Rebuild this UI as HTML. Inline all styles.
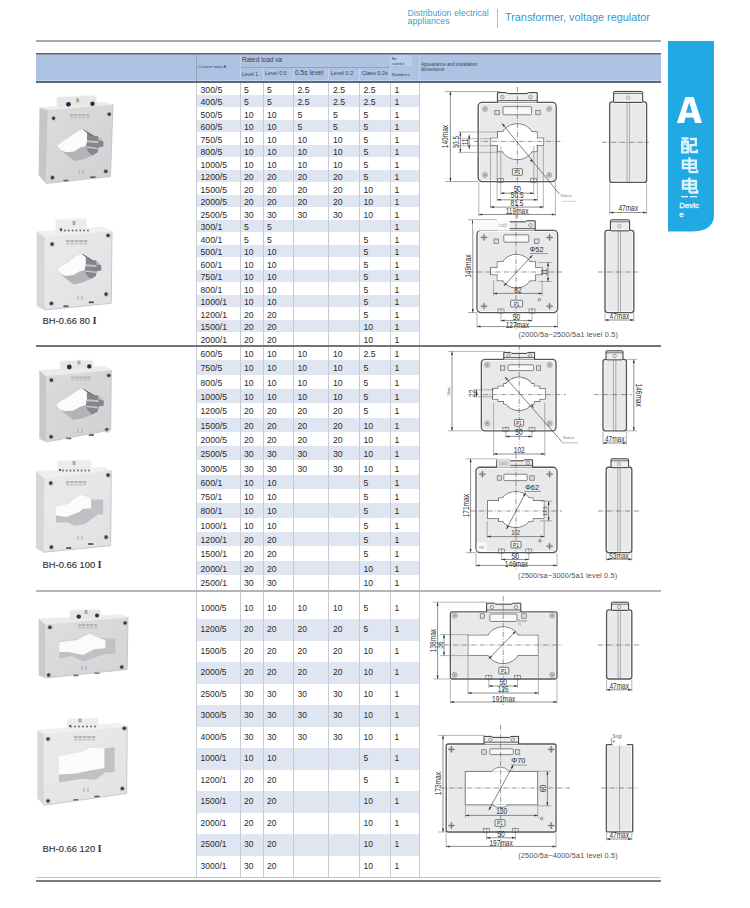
<!DOCTYPE html>
<html><head><meta charset="utf-8">
<style>
html,body{margin:0;padding:0;background:#fff;}
body{width:750px;height:908px;position:relative;overflow:hidden;font-family:"Liberation Sans",sans-serif;color:#222;}
.a{position:absolute;}
.band{position:absolute;left:196px;width:223px;background:#dfe6f2;}
.t{position:absolute;white-space:nowrap;color:#2a2a2a;}
.vl{position:absolute;width:1px;background:#c6cbd5;}
.hd{position:absolute;white-space:nowrap;color:#3a4454;}
.lab{position:absolute;white-space:nowrap;font-size:9.4px;line-height:11px;color:#303030;-webkit-text-stroke:0.12px #303030;}
.rn{font-family:"Liberation Serif",serif;font-weight:bold;}
</style></head><body>

<div class="a" style="left:407.5px;top:8.5px;font-size:8.8px;line-height:8.6px;color:#3aa3d3;">Distribution electrical<br>appliances</div>
<div class="a" style="left:497px;top:9px;width:1px;height:19px;background:#b8b8b8;"></div>
<div class="a" style="left:505px;top:11.3px;font-size:10.85px;line-height:12px;color:#2f9bcf;">Transformer, voltage regulator</div>
<div class="a" style="left:36px;top:40px;width:625px;height:2px;background:#a9a9a9;"></div>

<div class="a" style="left:36px;top:53px;width:625px;height:30px;background:#aec3e3;"></div>
<div class="a" style="left:36px;top:53px;width:625px;height:1px;background:#5a6676;"></div>
<div class="a" style="left:36px;top:54px;width:625px;height:1px;background:#8796ab;"></div>
<div class="a" style="left:36px;top:80px;width:625px;height:1px;background:#c0d4f0;"></div>
<div class="a" style="left:36px;top:81px;width:625px;height:2px;background:#5c6878;"></div>
<div class="a" style="left:196px;top:55px;width:1px;height:26px;background:#8ea3c3;"></div>
<div class="a" style="left:391px;top:55px;width:21px;height:11px;background:#bccdea;"></div>
<div class="a" style="left:240px;top:67px;width:150px;height:1px;background:#8ea3c3;"></div>

<div class="a" style="left:240px;top:55px;width:1px;height:26px;background:#c0d0ea;"></div>
<div class="a" style="left:263px;top:68px;width:1px;height:13px;background:#c0d0ea;"></div>
<div class="a" style="left:293px;top:68px;width:1px;height:13px;background:#c0d0ea;"></div>
<div class="a" style="left:328px;top:68px;width:1px;height:13px;background:#c0d0ea;"></div>
<div class="a" style="left:359px;top:68px;width:1px;height:13px;background:#c0d0ea;"></div>
<div class="a" style="left:390px;top:55px;width:1px;height:26px;background:#c0d0ea;"></div>
<div class="a" style="left:419px;top:55px;width:1px;height:26px;background:#c0d0ea;"></div>
<div class="hd" style="left:197.8px;top:64.3px;font-size:4.4px;">Current ratio A</div>
<div class="hd" style="left:242px;top:56.2px;font-size:6.5px;">Rated load va</div>
<div class="hd" style="left:242px;top:71.2px;font-size:5px;">Level 1</div>
<div class="hd" style="left:265px;top:70.3px;font-size:5.3px;">Level 0.5</div>
<div class="hd" style="left:295px;top:69.3px;font-size:6.7px;">0.5s level</div>
<div class="hd" style="left:330.7px;top:70.3px;font-size:5.6px;">Level 0.2</div>
<div class="hd" style="left:361.7px;top:70.3px;font-size:5.6px;">Class 0.2s</div>
<div class="hd" style="left:391.8px;top:55.5px;font-size:4.2px;line-height:5px;">Be<br>careful</div>
<div class="hd" style="left:391.8px;top:72.2px;font-size:4.4px;">Numbers</div>
<div class="hd" style="left:421px;top:62.6px;font-size:4.6px;line-height:4.9px;">Appearance and installation<br>dimensions</div>

<div class="t" style="left:200.5px;top:83.50px;height:12.50px;line-height:12.50px;font-size:8.7px">300/5</div>
<div class="t" style="left:244px;top:83.50px;height:12.50px;line-height:12.50px;font-size:8.7px">5</div>
<div class="t" style="left:267px;top:83.50px;height:12.50px;line-height:12.50px;font-size:8.7px">5</div>
<div class="t" style="left:297.5px;top:83.50px;height:12.50px;line-height:12.50px;font-size:8.7px">2.5</div>
<div class="t" style="left:333px;top:83.50px;height:12.50px;line-height:12.50px;font-size:8.7px">2.5</div>
<div class="t" style="left:363.5px;top:83.50px;height:12.50px;line-height:12.50px;font-size:8.7px">2.5</div>
<div class="t" style="left:394.5px;top:83.50px;height:12.50px;line-height:12.50px;font-size:8.7px">1</div>
<div class="band" style="top:94.70px;height:12.50px"></div>
<div class="t" style="left:200.5px;top:96.00px;height:12.50px;line-height:12.50px;font-size:8.7px">400/5</div>
<div class="t" style="left:244px;top:96.00px;height:12.50px;line-height:12.50px;font-size:8.7px">5</div>
<div class="t" style="left:267px;top:96.00px;height:12.50px;line-height:12.50px;font-size:8.7px">5</div>
<div class="t" style="left:297.5px;top:96.00px;height:12.50px;line-height:12.50px;font-size:8.7px">2.5</div>
<div class="t" style="left:333px;top:96.00px;height:12.50px;line-height:12.50px;font-size:8.7px">2.5</div>
<div class="t" style="left:363.5px;top:96.00px;height:12.50px;line-height:12.50px;font-size:8.7px">2.5</div>
<div class="t" style="left:394.5px;top:96.00px;height:12.50px;line-height:12.50px;font-size:8.7px">1</div>
<div class="t" style="left:200.5px;top:108.50px;height:12.50px;line-height:12.50px;font-size:8.7px">500/5</div>
<div class="t" style="left:244px;top:108.50px;height:12.50px;line-height:12.50px;font-size:8.7px">10</div>
<div class="t" style="left:267px;top:108.50px;height:12.50px;line-height:12.50px;font-size:8.7px">10</div>
<div class="t" style="left:297.5px;top:108.50px;height:12.50px;line-height:12.50px;font-size:8.7px">5</div>
<div class="t" style="left:333px;top:108.50px;height:12.50px;line-height:12.50px;font-size:8.7px">5</div>
<div class="t" style="left:363.5px;top:108.50px;height:12.50px;line-height:12.50px;font-size:8.7px">5</div>
<div class="t" style="left:394.5px;top:108.50px;height:12.50px;line-height:12.50px;font-size:8.7px">1</div>
<div class="band" style="top:119.70px;height:12.50px"></div>
<div class="t" style="left:200.5px;top:121.00px;height:12.50px;line-height:12.50px;font-size:8.7px">600/5</div>
<div class="t" style="left:244px;top:121.00px;height:12.50px;line-height:12.50px;font-size:8.7px">10</div>
<div class="t" style="left:267px;top:121.00px;height:12.50px;line-height:12.50px;font-size:8.7px">10</div>
<div class="t" style="left:297.5px;top:121.00px;height:12.50px;line-height:12.50px;font-size:8.7px">5</div>
<div class="t" style="left:333px;top:121.00px;height:12.50px;line-height:12.50px;font-size:8.7px">5</div>
<div class="t" style="left:363.5px;top:121.00px;height:12.50px;line-height:12.50px;font-size:8.7px">5</div>
<div class="t" style="left:394.5px;top:121.00px;height:12.50px;line-height:12.50px;font-size:8.7px">1</div>
<div class="t" style="left:200.5px;top:133.50px;height:12.50px;line-height:12.50px;font-size:8.7px">750/5</div>
<div class="t" style="left:244px;top:133.50px;height:12.50px;line-height:12.50px;font-size:8.7px">10</div>
<div class="t" style="left:267px;top:133.50px;height:12.50px;line-height:12.50px;font-size:8.7px">10</div>
<div class="t" style="left:297.5px;top:133.50px;height:12.50px;line-height:12.50px;font-size:8.7px">10</div>
<div class="t" style="left:333px;top:133.50px;height:12.50px;line-height:12.50px;font-size:8.7px">10</div>
<div class="t" style="left:363.5px;top:133.50px;height:12.50px;line-height:12.50px;font-size:8.7px">5</div>
<div class="t" style="left:394.5px;top:133.50px;height:12.50px;line-height:12.50px;font-size:8.7px">1</div>
<div class="band" style="top:144.70px;height:12.50px"></div>
<div class="t" style="left:200.5px;top:146.00px;height:12.50px;line-height:12.50px;font-size:8.7px">800/5</div>
<div class="t" style="left:244px;top:146.00px;height:12.50px;line-height:12.50px;font-size:8.7px">10</div>
<div class="t" style="left:267px;top:146.00px;height:12.50px;line-height:12.50px;font-size:8.7px">10</div>
<div class="t" style="left:297.5px;top:146.00px;height:12.50px;line-height:12.50px;font-size:8.7px">10</div>
<div class="t" style="left:333px;top:146.00px;height:12.50px;line-height:12.50px;font-size:8.7px">10</div>
<div class="t" style="left:363.5px;top:146.00px;height:12.50px;line-height:12.50px;font-size:8.7px">5</div>
<div class="t" style="left:394.5px;top:146.00px;height:12.50px;line-height:12.50px;font-size:8.7px">1</div>
<div class="t" style="left:200.5px;top:158.50px;height:12.50px;line-height:12.50px;font-size:8.7px">1000/5</div>
<div class="t" style="left:244px;top:158.50px;height:12.50px;line-height:12.50px;font-size:8.7px">10</div>
<div class="t" style="left:267px;top:158.50px;height:12.50px;line-height:12.50px;font-size:8.7px">10</div>
<div class="t" style="left:297.5px;top:158.50px;height:12.50px;line-height:12.50px;font-size:8.7px">10</div>
<div class="t" style="left:333px;top:158.50px;height:12.50px;line-height:12.50px;font-size:8.7px">10</div>
<div class="t" style="left:363.5px;top:158.50px;height:12.50px;line-height:12.50px;font-size:8.7px">5</div>
<div class="t" style="left:394.5px;top:158.50px;height:12.50px;line-height:12.50px;font-size:8.7px">1</div>
<div class="band" style="top:169.70px;height:12.50px"></div>
<div class="t" style="left:200.5px;top:171.00px;height:12.50px;line-height:12.50px;font-size:8.7px">1200/5</div>
<div class="t" style="left:244px;top:171.00px;height:12.50px;line-height:12.50px;font-size:8.7px">20</div>
<div class="t" style="left:267px;top:171.00px;height:12.50px;line-height:12.50px;font-size:8.7px">20</div>
<div class="t" style="left:297.5px;top:171.00px;height:12.50px;line-height:12.50px;font-size:8.7px">20</div>
<div class="t" style="left:333px;top:171.00px;height:12.50px;line-height:12.50px;font-size:8.7px">20</div>
<div class="t" style="left:363.5px;top:171.00px;height:12.50px;line-height:12.50px;font-size:8.7px">5</div>
<div class="t" style="left:394.5px;top:171.00px;height:12.50px;line-height:12.50px;font-size:8.7px">1</div>
<div class="t" style="left:200.5px;top:183.50px;height:12.50px;line-height:12.50px;font-size:8.7px">1500/5</div>
<div class="t" style="left:244px;top:183.50px;height:12.50px;line-height:12.50px;font-size:8.7px">20</div>
<div class="t" style="left:267px;top:183.50px;height:12.50px;line-height:12.50px;font-size:8.7px">20</div>
<div class="t" style="left:297.5px;top:183.50px;height:12.50px;line-height:12.50px;font-size:8.7px">20</div>
<div class="t" style="left:333px;top:183.50px;height:12.50px;line-height:12.50px;font-size:8.7px">20</div>
<div class="t" style="left:363.5px;top:183.50px;height:12.50px;line-height:12.50px;font-size:8.7px">10</div>
<div class="t" style="left:394.5px;top:183.50px;height:12.50px;line-height:12.50px;font-size:8.7px">1</div>
<div class="band" style="top:194.70px;height:12.50px"></div>
<div class="t" style="left:200.5px;top:196.00px;height:12.50px;line-height:12.50px;font-size:8.7px">2000/5</div>
<div class="t" style="left:244px;top:196.00px;height:12.50px;line-height:12.50px;font-size:8.7px">20</div>
<div class="t" style="left:267px;top:196.00px;height:12.50px;line-height:12.50px;font-size:8.7px">20</div>
<div class="t" style="left:297.5px;top:196.00px;height:12.50px;line-height:12.50px;font-size:8.7px">20</div>
<div class="t" style="left:333px;top:196.00px;height:12.50px;line-height:12.50px;font-size:8.7px">20</div>
<div class="t" style="left:363.5px;top:196.00px;height:12.50px;line-height:12.50px;font-size:8.7px">10</div>
<div class="t" style="left:394.5px;top:196.00px;height:12.50px;line-height:12.50px;font-size:8.7px">1</div>
<div class="t" style="left:200.5px;top:208.50px;height:12.50px;line-height:12.50px;font-size:8.7px">2500/5</div>
<div class="t" style="left:244px;top:208.50px;height:12.50px;line-height:12.50px;font-size:8.7px">30</div>
<div class="t" style="left:267px;top:208.50px;height:12.50px;line-height:12.50px;font-size:8.7px">30</div>
<div class="t" style="left:297.5px;top:208.50px;height:12.50px;line-height:12.50px;font-size:8.7px">30</div>
<div class="t" style="left:333px;top:208.50px;height:12.50px;line-height:12.50px;font-size:8.7px">30</div>
<div class="t" style="left:363.5px;top:208.50px;height:12.50px;line-height:12.50px;font-size:8.7px">10</div>
<div class="t" style="left:394.5px;top:208.50px;height:12.50px;line-height:12.50px;font-size:8.7px">1</div>
<div class="band" style="top:219.70px;height:12.50px"></div>
<div class="t" style="left:200.5px;top:221.00px;height:12.50px;line-height:12.50px;font-size:8.7px">300/1</div>
<div class="t" style="left:244px;top:221.00px;height:12.50px;line-height:12.50px;font-size:8.7px">5</div>
<div class="t" style="left:267px;top:221.00px;height:12.50px;line-height:12.50px;font-size:8.7px">5</div>
<div class="t" style="left:394.5px;top:221.00px;height:12.50px;line-height:12.50px;font-size:8.7px">1</div>
<div class="t" style="left:200.5px;top:233.50px;height:12.50px;line-height:12.50px;font-size:8.7px">400/1</div>
<div class="t" style="left:244px;top:233.50px;height:12.50px;line-height:12.50px;font-size:8.7px">5</div>
<div class="t" style="left:267px;top:233.50px;height:12.50px;line-height:12.50px;font-size:8.7px">5</div>
<div class="t" style="left:363.5px;top:233.50px;height:12.50px;line-height:12.50px;font-size:8.7px">5</div>
<div class="t" style="left:394.5px;top:233.50px;height:12.50px;line-height:12.50px;font-size:8.7px">1</div>
<div class="band" style="top:244.70px;height:12.50px"></div>
<div class="t" style="left:200.5px;top:246.00px;height:12.50px;line-height:12.50px;font-size:8.7px">500/1</div>
<div class="t" style="left:244px;top:246.00px;height:12.50px;line-height:12.50px;font-size:8.7px">10</div>
<div class="t" style="left:267px;top:246.00px;height:12.50px;line-height:12.50px;font-size:8.7px">10</div>
<div class="t" style="left:363.5px;top:246.00px;height:12.50px;line-height:12.50px;font-size:8.7px">5</div>
<div class="t" style="left:394.5px;top:246.00px;height:12.50px;line-height:12.50px;font-size:8.7px">1</div>
<div class="t" style="left:200.5px;top:258.50px;height:12.50px;line-height:12.50px;font-size:8.7px">600/1</div>
<div class="t" style="left:244px;top:258.50px;height:12.50px;line-height:12.50px;font-size:8.7px">10</div>
<div class="t" style="left:267px;top:258.50px;height:12.50px;line-height:12.50px;font-size:8.7px">10</div>
<div class="t" style="left:363.5px;top:258.50px;height:12.50px;line-height:12.50px;font-size:8.7px">5</div>
<div class="t" style="left:394.5px;top:258.50px;height:12.50px;line-height:12.50px;font-size:8.7px">1</div>
<div class="band" style="top:269.70px;height:12.50px"></div>
<div class="t" style="left:200.5px;top:271.00px;height:12.50px;line-height:12.50px;font-size:8.7px">750/1</div>
<div class="t" style="left:244px;top:271.00px;height:12.50px;line-height:12.50px;font-size:8.7px">10</div>
<div class="t" style="left:267px;top:271.00px;height:12.50px;line-height:12.50px;font-size:8.7px">10</div>
<div class="t" style="left:363.5px;top:271.00px;height:12.50px;line-height:12.50px;font-size:8.7px">5</div>
<div class="t" style="left:394.5px;top:271.00px;height:12.50px;line-height:12.50px;font-size:8.7px">1</div>
<div class="t" style="left:200.5px;top:283.50px;height:12.50px;line-height:12.50px;font-size:8.7px">800/1</div>
<div class="t" style="left:244px;top:283.50px;height:12.50px;line-height:12.50px;font-size:8.7px">10</div>
<div class="t" style="left:267px;top:283.50px;height:12.50px;line-height:12.50px;font-size:8.7px">10</div>
<div class="t" style="left:363.5px;top:283.50px;height:12.50px;line-height:12.50px;font-size:8.7px">5</div>
<div class="t" style="left:394.5px;top:283.50px;height:12.50px;line-height:12.50px;font-size:8.7px">1</div>
<div class="band" style="top:294.70px;height:12.50px"></div>
<div class="t" style="left:200.5px;top:296.00px;height:12.50px;line-height:12.50px;font-size:8.7px">1000/1</div>
<div class="t" style="left:244px;top:296.00px;height:12.50px;line-height:12.50px;font-size:8.7px">10</div>
<div class="t" style="left:267px;top:296.00px;height:12.50px;line-height:12.50px;font-size:8.7px">10</div>
<div class="t" style="left:363.5px;top:296.00px;height:12.50px;line-height:12.50px;font-size:8.7px">5</div>
<div class="t" style="left:394.5px;top:296.00px;height:12.50px;line-height:12.50px;font-size:8.7px">1</div>
<div class="t" style="left:200.5px;top:308.50px;height:12.50px;line-height:12.50px;font-size:8.7px">1200/1</div>
<div class="t" style="left:244px;top:308.50px;height:12.50px;line-height:12.50px;font-size:8.7px">20</div>
<div class="t" style="left:267px;top:308.50px;height:12.50px;line-height:12.50px;font-size:8.7px">20</div>
<div class="t" style="left:363.5px;top:308.50px;height:12.50px;line-height:12.50px;font-size:8.7px">5</div>
<div class="t" style="left:394.5px;top:308.50px;height:12.50px;line-height:12.50px;font-size:8.7px">1</div>
<div class="band" style="top:319.70px;height:12.50px"></div>
<div class="t" style="left:200.5px;top:321.00px;height:12.50px;line-height:12.50px;font-size:8.7px">1500/1</div>
<div class="t" style="left:244px;top:321.00px;height:12.50px;line-height:12.50px;font-size:8.7px">20</div>
<div class="t" style="left:267px;top:321.00px;height:12.50px;line-height:12.50px;font-size:8.7px">20</div>
<div class="t" style="left:363.5px;top:321.00px;height:12.50px;line-height:12.50px;font-size:8.7px">10</div>
<div class="t" style="left:394.5px;top:321.00px;height:12.50px;line-height:12.50px;font-size:8.7px">1</div>
<div class="t" style="left:200.5px;top:333.50px;height:12.50px;line-height:12.50px;font-size:8.7px">2000/1</div>
<div class="t" style="left:244px;top:333.50px;height:12.50px;line-height:12.50px;font-size:8.7px">20</div>
<div class="t" style="left:267px;top:333.50px;height:12.50px;line-height:12.50px;font-size:8.7px">20</div>
<div class="t" style="left:363.5px;top:333.50px;height:12.50px;line-height:12.50px;font-size:8.7px">10</div>
<div class="t" style="left:394.5px;top:333.50px;height:12.50px;line-height:12.50px;font-size:8.7px">1</div>
<div class="t" style="left:200.5px;top:347.10px;height:14.30px;line-height:14.30px;font-size:8.7px">600/5</div>
<div class="t" style="left:244px;top:347.10px;height:14.30px;line-height:14.30px;font-size:8.7px">10</div>
<div class="t" style="left:267px;top:347.10px;height:14.30px;line-height:14.30px;font-size:8.7px">10</div>
<div class="t" style="left:297.5px;top:347.10px;height:14.30px;line-height:14.30px;font-size:8.7px">10</div>
<div class="t" style="left:333px;top:347.10px;height:14.30px;line-height:14.30px;font-size:8.7px">10</div>
<div class="t" style="left:363.5px;top:347.10px;height:14.30px;line-height:14.30px;font-size:8.7px">2.5</div>
<div class="t" style="left:394.5px;top:347.10px;height:14.30px;line-height:14.30px;font-size:8.7px">1</div>
<div class="band" style="top:360.30px;height:14.30px"></div>
<div class="t" style="left:200.5px;top:361.40px;height:14.30px;line-height:14.30px;font-size:8.7px">750/5</div>
<div class="t" style="left:244px;top:361.40px;height:14.30px;line-height:14.30px;font-size:8.7px">10</div>
<div class="t" style="left:267px;top:361.40px;height:14.30px;line-height:14.30px;font-size:8.7px">10</div>
<div class="t" style="left:297.5px;top:361.40px;height:14.30px;line-height:14.30px;font-size:8.7px">10</div>
<div class="t" style="left:333px;top:361.40px;height:14.30px;line-height:14.30px;font-size:8.7px">10</div>
<div class="t" style="left:363.5px;top:361.40px;height:14.30px;line-height:14.30px;font-size:8.7px">5</div>
<div class="t" style="left:394.5px;top:361.40px;height:14.30px;line-height:14.30px;font-size:8.7px">1</div>
<div class="t" style="left:200.5px;top:375.70px;height:14.30px;line-height:14.30px;font-size:8.7px">800/5</div>
<div class="t" style="left:244px;top:375.70px;height:14.30px;line-height:14.30px;font-size:8.7px">10</div>
<div class="t" style="left:267px;top:375.70px;height:14.30px;line-height:14.30px;font-size:8.7px">10</div>
<div class="t" style="left:297.5px;top:375.70px;height:14.30px;line-height:14.30px;font-size:8.7px">10</div>
<div class="t" style="left:333px;top:375.70px;height:14.30px;line-height:14.30px;font-size:8.7px">10</div>
<div class="t" style="left:363.5px;top:375.70px;height:14.30px;line-height:14.30px;font-size:8.7px">5</div>
<div class="t" style="left:394.5px;top:375.70px;height:14.30px;line-height:14.30px;font-size:8.7px">1</div>
<div class="band" style="top:388.90px;height:14.30px"></div>
<div class="t" style="left:200.5px;top:390.00px;height:14.30px;line-height:14.30px;font-size:8.7px">1000/5</div>
<div class="t" style="left:244px;top:390.00px;height:14.30px;line-height:14.30px;font-size:8.7px">10</div>
<div class="t" style="left:267px;top:390.00px;height:14.30px;line-height:14.30px;font-size:8.7px">10</div>
<div class="t" style="left:297.5px;top:390.00px;height:14.30px;line-height:14.30px;font-size:8.7px">10</div>
<div class="t" style="left:333px;top:390.00px;height:14.30px;line-height:14.30px;font-size:8.7px">10</div>
<div class="t" style="left:363.5px;top:390.00px;height:14.30px;line-height:14.30px;font-size:8.7px">5</div>
<div class="t" style="left:394.5px;top:390.00px;height:14.30px;line-height:14.30px;font-size:8.7px">1</div>
<div class="t" style="left:200.5px;top:404.30px;height:14.30px;line-height:14.30px;font-size:8.7px">1200/5</div>
<div class="t" style="left:244px;top:404.30px;height:14.30px;line-height:14.30px;font-size:8.7px">20</div>
<div class="t" style="left:267px;top:404.30px;height:14.30px;line-height:14.30px;font-size:8.7px">20</div>
<div class="t" style="left:297.5px;top:404.30px;height:14.30px;line-height:14.30px;font-size:8.7px">20</div>
<div class="t" style="left:333px;top:404.30px;height:14.30px;line-height:14.30px;font-size:8.7px">20</div>
<div class="t" style="left:363.5px;top:404.30px;height:14.30px;line-height:14.30px;font-size:8.7px">5</div>
<div class="t" style="left:394.5px;top:404.30px;height:14.30px;line-height:14.30px;font-size:8.7px">1</div>
<div class="band" style="top:417.50px;height:14.30px"></div>
<div class="t" style="left:200.5px;top:418.60px;height:14.30px;line-height:14.30px;font-size:8.7px">1500/5</div>
<div class="t" style="left:244px;top:418.60px;height:14.30px;line-height:14.30px;font-size:8.7px">20</div>
<div class="t" style="left:267px;top:418.60px;height:14.30px;line-height:14.30px;font-size:8.7px">20</div>
<div class="t" style="left:297.5px;top:418.60px;height:14.30px;line-height:14.30px;font-size:8.7px">20</div>
<div class="t" style="left:333px;top:418.60px;height:14.30px;line-height:14.30px;font-size:8.7px">20</div>
<div class="t" style="left:363.5px;top:418.60px;height:14.30px;line-height:14.30px;font-size:8.7px">10</div>
<div class="t" style="left:394.5px;top:418.60px;height:14.30px;line-height:14.30px;font-size:8.7px">1</div>
<div class="t" style="left:200.5px;top:432.90px;height:14.30px;line-height:14.30px;font-size:8.7px">2000/5</div>
<div class="t" style="left:244px;top:432.90px;height:14.30px;line-height:14.30px;font-size:8.7px">20</div>
<div class="t" style="left:267px;top:432.90px;height:14.30px;line-height:14.30px;font-size:8.7px">20</div>
<div class="t" style="left:297.5px;top:432.90px;height:14.30px;line-height:14.30px;font-size:8.7px">20</div>
<div class="t" style="left:333px;top:432.90px;height:14.30px;line-height:14.30px;font-size:8.7px">20</div>
<div class="t" style="left:363.5px;top:432.90px;height:14.30px;line-height:14.30px;font-size:8.7px">10</div>
<div class="t" style="left:394.5px;top:432.90px;height:14.30px;line-height:14.30px;font-size:8.7px">1</div>
<div class="band" style="top:446.10px;height:14.30px"></div>
<div class="t" style="left:200.5px;top:447.20px;height:14.30px;line-height:14.30px;font-size:8.7px">2500/5</div>
<div class="t" style="left:244px;top:447.20px;height:14.30px;line-height:14.30px;font-size:8.7px">30</div>
<div class="t" style="left:267px;top:447.20px;height:14.30px;line-height:14.30px;font-size:8.7px">30</div>
<div class="t" style="left:297.5px;top:447.20px;height:14.30px;line-height:14.30px;font-size:8.7px">30</div>
<div class="t" style="left:333px;top:447.20px;height:14.30px;line-height:14.30px;font-size:8.7px">30</div>
<div class="t" style="left:363.5px;top:447.20px;height:14.30px;line-height:14.30px;font-size:8.7px">10</div>
<div class="t" style="left:394.5px;top:447.20px;height:14.30px;line-height:14.30px;font-size:8.7px">1</div>
<div class="t" style="left:200.5px;top:461.50px;height:14.30px;line-height:14.30px;font-size:8.7px">3000/5</div>
<div class="t" style="left:244px;top:461.50px;height:14.30px;line-height:14.30px;font-size:8.7px">30</div>
<div class="t" style="left:267px;top:461.50px;height:14.30px;line-height:14.30px;font-size:8.7px">30</div>
<div class="t" style="left:297.5px;top:461.50px;height:14.30px;line-height:14.30px;font-size:8.7px">30</div>
<div class="t" style="left:333px;top:461.50px;height:14.30px;line-height:14.30px;font-size:8.7px">30</div>
<div class="t" style="left:363.5px;top:461.50px;height:14.30px;line-height:14.30px;font-size:8.7px">10</div>
<div class="t" style="left:394.5px;top:461.50px;height:14.30px;line-height:14.30px;font-size:8.7px">1</div>
<div class="band" style="top:474.70px;height:14.30px"></div>
<div class="t" style="left:200.5px;top:475.80px;height:14.30px;line-height:14.30px;font-size:8.7px">600/1</div>
<div class="t" style="left:244px;top:475.80px;height:14.30px;line-height:14.30px;font-size:8.7px">10</div>
<div class="t" style="left:267px;top:475.80px;height:14.30px;line-height:14.30px;font-size:8.7px">10</div>
<div class="t" style="left:363.5px;top:475.80px;height:14.30px;line-height:14.30px;font-size:8.7px">5</div>
<div class="t" style="left:394.5px;top:475.80px;height:14.30px;line-height:14.30px;font-size:8.7px">1</div>
<div class="t" style="left:200.5px;top:490.10px;height:14.30px;line-height:14.30px;font-size:8.7px">750/1</div>
<div class="t" style="left:244px;top:490.10px;height:14.30px;line-height:14.30px;font-size:8.7px">10</div>
<div class="t" style="left:267px;top:490.10px;height:14.30px;line-height:14.30px;font-size:8.7px">10</div>
<div class="t" style="left:363.5px;top:490.10px;height:14.30px;line-height:14.30px;font-size:8.7px">5</div>
<div class="t" style="left:394.5px;top:490.10px;height:14.30px;line-height:14.30px;font-size:8.7px">1</div>
<div class="band" style="top:503.30px;height:14.30px"></div>
<div class="t" style="left:200.5px;top:504.40px;height:14.30px;line-height:14.30px;font-size:8.7px">800/1</div>
<div class="t" style="left:244px;top:504.40px;height:14.30px;line-height:14.30px;font-size:8.7px">10</div>
<div class="t" style="left:267px;top:504.40px;height:14.30px;line-height:14.30px;font-size:8.7px">10</div>
<div class="t" style="left:363.5px;top:504.40px;height:14.30px;line-height:14.30px;font-size:8.7px">5</div>
<div class="t" style="left:394.5px;top:504.40px;height:14.30px;line-height:14.30px;font-size:8.7px">1</div>
<div class="t" style="left:200.5px;top:518.70px;height:14.30px;line-height:14.30px;font-size:8.7px">1000/1</div>
<div class="t" style="left:244px;top:518.70px;height:14.30px;line-height:14.30px;font-size:8.7px">10</div>
<div class="t" style="left:267px;top:518.70px;height:14.30px;line-height:14.30px;font-size:8.7px">10</div>
<div class="t" style="left:363.5px;top:518.70px;height:14.30px;line-height:14.30px;font-size:8.7px">5</div>
<div class="t" style="left:394.5px;top:518.70px;height:14.30px;line-height:14.30px;font-size:8.7px">1</div>
<div class="band" style="top:531.90px;height:14.30px"></div>
<div class="t" style="left:200.5px;top:533.00px;height:14.30px;line-height:14.30px;font-size:8.7px">1200/1</div>
<div class="t" style="left:244px;top:533.00px;height:14.30px;line-height:14.30px;font-size:8.7px">20</div>
<div class="t" style="left:267px;top:533.00px;height:14.30px;line-height:14.30px;font-size:8.7px">20</div>
<div class="t" style="left:363.5px;top:533.00px;height:14.30px;line-height:14.30px;font-size:8.7px">5</div>
<div class="t" style="left:394.5px;top:533.00px;height:14.30px;line-height:14.30px;font-size:8.7px">1</div>
<div class="t" style="left:200.5px;top:547.30px;height:14.30px;line-height:14.30px;font-size:8.7px">1500/1</div>
<div class="t" style="left:244px;top:547.30px;height:14.30px;line-height:14.30px;font-size:8.7px">20</div>
<div class="t" style="left:267px;top:547.30px;height:14.30px;line-height:14.30px;font-size:8.7px">20</div>
<div class="t" style="left:363.5px;top:547.30px;height:14.30px;line-height:14.30px;font-size:8.7px">5</div>
<div class="t" style="left:394.5px;top:547.30px;height:14.30px;line-height:14.30px;font-size:8.7px">1</div>
<div class="band" style="top:560.50px;height:14.30px"></div>
<div class="t" style="left:200.5px;top:561.60px;height:14.30px;line-height:14.30px;font-size:8.7px">2000/1</div>
<div class="t" style="left:244px;top:561.60px;height:14.30px;line-height:14.30px;font-size:8.7px">20</div>
<div class="t" style="left:267px;top:561.60px;height:14.30px;line-height:14.30px;font-size:8.7px">20</div>
<div class="t" style="left:363.5px;top:561.60px;height:14.30px;line-height:14.30px;font-size:8.7px">10</div>
<div class="t" style="left:394.5px;top:561.60px;height:14.30px;line-height:14.30px;font-size:8.7px">1</div>
<div class="t" style="left:200.5px;top:575.90px;height:14.30px;line-height:14.30px;font-size:8.7px">2500/1</div>
<div class="t" style="left:244px;top:575.90px;height:14.30px;line-height:14.30px;font-size:8.7px">30</div>
<div class="t" style="left:267px;top:575.90px;height:14.30px;line-height:14.30px;font-size:8.7px">30</div>
<div class="t" style="left:363.5px;top:575.90px;height:14.30px;line-height:14.30px;font-size:8.7px">10</div>
<div class="t" style="left:394.5px;top:575.90px;height:14.30px;line-height:14.30px;font-size:8.7px">1</div>
<div class="t" style="left:200.5px;top:597.50px;height:21.50px;line-height:21.50px;font-size:8.5px">1000/5</div>
<div class="t" style="left:244px;top:597.50px;height:21.50px;line-height:21.50px;font-size:8.5px">10</div>
<div class="t" style="left:267px;top:597.50px;height:21.50px;line-height:21.50px;font-size:8.5px">10</div>
<div class="t" style="left:297.5px;top:597.50px;height:21.50px;line-height:21.50px;font-size:8.5px">10</div>
<div class="t" style="left:333px;top:597.50px;height:21.50px;line-height:21.50px;font-size:8.5px">10</div>
<div class="t" style="left:363.5px;top:597.50px;height:21.50px;line-height:21.50px;font-size:8.5px">5</div>
<div class="t" style="left:394.5px;top:597.50px;height:21.50px;line-height:21.50px;font-size:8.5px">1</div>
<div class="band" style="top:619.00px;height:21.50px"></div>
<div class="t" style="left:200.5px;top:619.00px;height:21.50px;line-height:21.50px;font-size:8.5px">1200/5</div>
<div class="t" style="left:244px;top:619.00px;height:21.50px;line-height:21.50px;font-size:8.5px">20</div>
<div class="t" style="left:267px;top:619.00px;height:21.50px;line-height:21.50px;font-size:8.5px">20</div>
<div class="t" style="left:297.5px;top:619.00px;height:21.50px;line-height:21.50px;font-size:8.5px">20</div>
<div class="t" style="left:333px;top:619.00px;height:21.50px;line-height:21.50px;font-size:8.5px">20</div>
<div class="t" style="left:363.5px;top:619.00px;height:21.50px;line-height:21.50px;font-size:8.5px">5</div>
<div class="t" style="left:394.5px;top:619.00px;height:21.50px;line-height:21.50px;font-size:8.5px">1</div>
<div class="t" style="left:200.5px;top:640.50px;height:21.50px;line-height:21.50px;font-size:8.5px">1500/5</div>
<div class="t" style="left:244px;top:640.50px;height:21.50px;line-height:21.50px;font-size:8.5px">20</div>
<div class="t" style="left:267px;top:640.50px;height:21.50px;line-height:21.50px;font-size:8.5px">20</div>
<div class="t" style="left:297.5px;top:640.50px;height:21.50px;line-height:21.50px;font-size:8.5px">20</div>
<div class="t" style="left:333px;top:640.50px;height:21.50px;line-height:21.50px;font-size:8.5px">20</div>
<div class="t" style="left:363.5px;top:640.50px;height:21.50px;line-height:21.50px;font-size:8.5px">10</div>
<div class="t" style="left:394.5px;top:640.50px;height:21.50px;line-height:21.50px;font-size:8.5px">1</div>
<div class="band" style="top:662.00px;height:21.50px"></div>
<div class="t" style="left:200.5px;top:662.00px;height:21.50px;line-height:21.50px;font-size:8.5px">2000/5</div>
<div class="t" style="left:244px;top:662.00px;height:21.50px;line-height:21.50px;font-size:8.5px">20</div>
<div class="t" style="left:267px;top:662.00px;height:21.50px;line-height:21.50px;font-size:8.5px">20</div>
<div class="t" style="left:297.5px;top:662.00px;height:21.50px;line-height:21.50px;font-size:8.5px">20</div>
<div class="t" style="left:333px;top:662.00px;height:21.50px;line-height:21.50px;font-size:8.5px">20</div>
<div class="t" style="left:363.5px;top:662.00px;height:21.50px;line-height:21.50px;font-size:8.5px">10</div>
<div class="t" style="left:394.5px;top:662.00px;height:21.50px;line-height:21.50px;font-size:8.5px">1</div>
<div class="t" style="left:200.5px;top:683.50px;height:21.50px;line-height:21.50px;font-size:8.5px">2500/5</div>
<div class="t" style="left:244px;top:683.50px;height:21.50px;line-height:21.50px;font-size:8.5px">30</div>
<div class="t" style="left:267px;top:683.50px;height:21.50px;line-height:21.50px;font-size:8.5px">30</div>
<div class="t" style="left:297.5px;top:683.50px;height:21.50px;line-height:21.50px;font-size:8.5px">30</div>
<div class="t" style="left:333px;top:683.50px;height:21.50px;line-height:21.50px;font-size:8.5px">30</div>
<div class="t" style="left:363.5px;top:683.50px;height:21.50px;line-height:21.50px;font-size:8.5px">10</div>
<div class="t" style="left:394.5px;top:683.50px;height:21.50px;line-height:21.50px;font-size:8.5px">1</div>
<div class="band" style="top:705.00px;height:21.50px"></div>
<div class="t" style="left:200.5px;top:705.00px;height:21.50px;line-height:21.50px;font-size:8.5px">3000/5</div>
<div class="t" style="left:244px;top:705.00px;height:21.50px;line-height:21.50px;font-size:8.5px">30</div>
<div class="t" style="left:267px;top:705.00px;height:21.50px;line-height:21.50px;font-size:8.5px">30</div>
<div class="t" style="left:297.5px;top:705.00px;height:21.50px;line-height:21.50px;font-size:8.5px">30</div>
<div class="t" style="left:333px;top:705.00px;height:21.50px;line-height:21.50px;font-size:8.5px">30</div>
<div class="t" style="left:363.5px;top:705.00px;height:21.50px;line-height:21.50px;font-size:8.5px">10</div>
<div class="t" style="left:394.5px;top:705.00px;height:21.50px;line-height:21.50px;font-size:8.5px">1</div>
<div class="t" style="left:200.5px;top:726.50px;height:21.50px;line-height:21.50px;font-size:8.5px">4000/5</div>
<div class="t" style="left:244px;top:726.50px;height:21.50px;line-height:21.50px;font-size:8.5px">30</div>
<div class="t" style="left:267px;top:726.50px;height:21.50px;line-height:21.50px;font-size:8.5px">30</div>
<div class="t" style="left:297.5px;top:726.50px;height:21.50px;line-height:21.50px;font-size:8.5px">30</div>
<div class="t" style="left:333px;top:726.50px;height:21.50px;line-height:21.50px;font-size:8.5px">30</div>
<div class="t" style="left:363.5px;top:726.50px;height:21.50px;line-height:21.50px;font-size:8.5px">10</div>
<div class="t" style="left:394.5px;top:726.50px;height:21.50px;line-height:21.50px;font-size:8.5px">1</div>
<div class="band" style="top:748.00px;height:21.50px"></div>
<div class="t" style="left:200.5px;top:748.00px;height:21.50px;line-height:21.50px;font-size:8.5px">1000/1</div>
<div class="t" style="left:244px;top:748.00px;height:21.50px;line-height:21.50px;font-size:8.5px">10</div>
<div class="t" style="left:267px;top:748.00px;height:21.50px;line-height:21.50px;font-size:8.5px">10</div>
<div class="t" style="left:363.5px;top:748.00px;height:21.50px;line-height:21.50px;font-size:8.5px">5</div>
<div class="t" style="left:394.5px;top:748.00px;height:21.50px;line-height:21.50px;font-size:8.5px">1</div>
<div class="t" style="left:200.5px;top:769.50px;height:21.50px;line-height:21.50px;font-size:8.5px">1200/1</div>
<div class="t" style="left:244px;top:769.50px;height:21.50px;line-height:21.50px;font-size:8.5px">20</div>
<div class="t" style="left:267px;top:769.50px;height:21.50px;line-height:21.50px;font-size:8.5px">20</div>
<div class="t" style="left:363.5px;top:769.50px;height:21.50px;line-height:21.50px;font-size:8.5px">5</div>
<div class="t" style="left:394.5px;top:769.50px;height:21.50px;line-height:21.50px;font-size:8.5px">1</div>
<div class="band" style="top:791.00px;height:21.50px"></div>
<div class="t" style="left:200.5px;top:791.00px;height:21.50px;line-height:21.50px;font-size:8.5px">1500/1</div>
<div class="t" style="left:244px;top:791.00px;height:21.50px;line-height:21.50px;font-size:8.5px">20</div>
<div class="t" style="left:267px;top:791.00px;height:21.50px;line-height:21.50px;font-size:8.5px">20</div>
<div class="t" style="left:363.5px;top:791.00px;height:21.50px;line-height:21.50px;font-size:8.5px">10</div>
<div class="t" style="left:394.5px;top:791.00px;height:21.50px;line-height:21.50px;font-size:8.5px">1</div>
<div class="t" style="left:200.5px;top:812.50px;height:21.50px;line-height:21.50px;font-size:8.5px">2000/1</div>
<div class="t" style="left:244px;top:812.50px;height:21.50px;line-height:21.50px;font-size:8.5px">20</div>
<div class="t" style="left:267px;top:812.50px;height:21.50px;line-height:21.50px;font-size:8.5px">20</div>
<div class="t" style="left:363.5px;top:812.50px;height:21.50px;line-height:21.50px;font-size:8.5px">10</div>
<div class="t" style="left:394.5px;top:812.50px;height:21.50px;line-height:21.50px;font-size:8.5px">1</div>
<div class="band" style="top:834.00px;height:21.50px"></div>
<div class="t" style="left:200.5px;top:834.00px;height:21.50px;line-height:21.50px;font-size:8.5px">2500/1</div>
<div class="t" style="left:244px;top:834.00px;height:21.50px;line-height:21.50px;font-size:8.5px">30</div>
<div class="t" style="left:267px;top:834.00px;height:21.50px;line-height:21.50px;font-size:8.5px">20</div>
<div class="t" style="left:363.5px;top:834.00px;height:21.50px;line-height:21.50px;font-size:8.5px">10</div>
<div class="t" style="left:394.5px;top:834.00px;height:21.50px;line-height:21.50px;font-size:8.5px">1</div>
<div class="t" style="left:200.5px;top:855.50px;height:21.50px;line-height:21.50px;font-size:8.5px">3000/1</div>
<div class="t" style="left:244px;top:855.50px;height:21.50px;line-height:21.50px;font-size:8.5px">30</div>
<div class="t" style="left:267px;top:855.50px;height:21.50px;line-height:21.50px;font-size:8.5px">20</div>
<div class="t" style="left:363.5px;top:855.50px;height:21.50px;line-height:21.50px;font-size:8.5px">10</div>
<div class="t" style="left:394.5px;top:855.50px;height:21.50px;line-height:21.50px;font-size:8.5px">1</div>
<div class="vl" style="left:196px;top:83px;height:794px"></div>
<div class="vl" style="left:240px;top:83px;height:794px"></div>
<div class="vl" style="left:263px;top:83px;height:794px"></div>
<div class="vl" style="left:293px;top:83px;height:794px"></div>
<div class="vl" style="left:328px;top:83px;height:794px"></div>
<div class="vl" style="left:359px;top:83px;height:794px"></div>
<div class="vl" style="left:390px;top:83px;height:794px"></div>
<div class="vl" style="left:419px;top:83px;height:794px"></div>
<div class="a" style="left:36px;top:345px;width:625px;height:2px;background:#737373;"></div>
<div class="a" style="left:36px;top:590px;width:625px;height:2px;background:#b4b4b4;"></div>
<div class="a" style="left:36px;top:877px;width:625px;height:1px;background:#c4c4c4;"></div>
<div class="a" style="left:36px;top:880px;width:625px;height:2px;background:#7a7a7a;"></div>

<div class="lab" style="left:42.6px;top:314.8px;">BH-0.66 80 <span class="rn">I</span></div>
<div class="lab" style="left:42.6px;top:558.6px;">BH-0.66 100 <span class="rn">I</span></div>
<div class="lab" style="left:42.6px;top:843.2px;">BH-0.66 120 <span class="rn">I</span></div>

<svg class="a" style="left:0;top:0" width="200" height="908" viewBox="0 0 200 908">
<defs><linearGradient id="g1" x1="0" y1="0" x2="1" y2="1"><stop offset="0" stop-color="#dcdcdf"/><stop offset="1" stop-color="#d1d1d4"/></linearGradient><linearGradient id="g2" x1="0" y1="0" x2="1" y2="1"><stop offset="0" stop-color="#eaeaec"/><stop offset="1" stop-color="#e1e1e3"/></linearGradient><linearGradient id="g3" x1="0" y1="0" x2="1" y2="1"><stop offset="0" stop-color="#dbdbde"/><stop offset="1" stop-color="#d1d1d4"/></linearGradient><linearGradient id="g4" x1="0" y1="0" x2="1" y2="1"><stop offset="0" stop-color="#ebebed"/><stop offset="1" stop-color="#e1e1e3"/></linearGradient><linearGradient id="g5" x1="0" y1="0" x2="1" y2="1"><stop offset="0" stop-color="#dedee1"/><stop offset="1" stop-color="#d4d4d7"/></linearGradient><linearGradient id="g6" x1="0" y1="0" x2="1" y2="1"><stop offset="0" stop-color="#ebebed"/><stop offset="1" stop-color="#e2e2e4"/></linearGradient></defs>
<polygon points="39.5,107.5 48.0,110.0 46.0,183.5 38.6,175.0" fill="#c5c6c9"/>
<polygon points="39.5,107.5 104.0,102.0 113.0,104.5 48.0,110.0" fill="#ececee"/>
<polygon points="48.0,110.0 113.0,104.5 110.5,176.5 46.0,183.5" fill="url(#g1)"/>
<polygon points="56.5,98.0 61.0,96.5 95.0,95.5 96.5,97.0 96.5,105.0 57.0,106.5" fill="#e6e6e8"/>
<polyline points="56.5,98.0 61.0,96.5 95.0,95.5" fill="none" stroke="#f6f6f7" stroke-width="1.2"/>
<circle cx="68.4" cy="104.3" r="2.4" fill="#2e2e30"/>
<circle cx="92.5" cy="103.8" r="2.2" fill="#2e2e30"/>
<circle cx="53.5" cy="118.1" r="1.9" fill="#3c3c3e"/>
<circle cx="53.9" cy="118.6" r="2.4" fill="none" stroke="#bdbdc0" stroke-width="0.6"/>
<circle cx="109.1" cy="114.1" r="1.9" fill="#3c3c3e"/>
<circle cx="109.5" cy="114.6" r="2.4" fill="none" stroke="#bdbdc0" stroke-width="0.6"/>
<circle cx="52.3" cy="177.5" r="1.9" fill="#3c3c3e"/>
<circle cx="52.699999999999996" cy="178.0" r="2.4" fill="none" stroke="#bdbdc0" stroke-width="0.6"/>
<circle cx="105.7" cy="171.2" r="1.9" fill="#3c3c3e"/>
<circle cx="106.10000000000001" cy="171.7" r="2.4" fill="none" stroke="#bdbdc0" stroke-width="0.6"/>
<rect x="63.5" y="179.79999999999998" width="5" height="1.8" fill="#555"/>
<rect x="90.5" y="176.39999999999998" width="5" height="1.8" fill="#555"/>
<polyline points="113.0,104.5 110.5,176.5 46.0,183.5" fill="none" stroke="#bdbec1" stroke-width="0.8"/>
<line x1="48" y1="110" x2="46" y2="183.5" stroke="#d2d3d6" stroke-width="0.6"/>
<rect x="70.0" y="114.0" width="3.2" height="2.2" fill="#b4b5b8"/>
<rect x="70.0" y="117.0" width="3.2" height="1.4" fill="#c2c3c6"/>
<rect x="74.0" y="114.0" width="3.2" height="2.2" fill="#b4b5b8"/>
<rect x="74.0" y="117.0" width="3.2" height="1.4" fill="#c2c3c6"/>
<rect x="78.0" y="114.0" width="3.2" height="2.2" fill="#b4b5b8"/>
<rect x="78.0" y="117.0" width="3.2" height="1.4" fill="#c2c3c6"/>
<rect x="82.0" y="114.0" width="3.2" height="2.2" fill="#b4b5b8"/>
<rect x="82.0" y="117.0" width="3.2" height="1.4" fill="#c2c3c6"/>
<rect x="86.0" y="114.0" width="3.2" height="2.2" fill="#b4b5b8"/>
<rect x="86.0" y="117.0" width="3.2" height="1.4" fill="#c2c3c6"/>
<rect x="78.5" y="169.5" width="1" height="4" fill="#a9aaad"/>
<rect x="82.5" y="169.5" width="1" height="4" fill="#a9aaad"/>
<rect x="76.1" y="98.3" width="3" height="4" fill="#b3aa88"/>
<polygon points="57.0,146.0 64.0,141.0 67.0,139.0 77.0,131.0 83.0,129.6 88.0,132.0 95.0,136.0 98.0,136.3 103.3,141.3 103.3,146.6 98.5,147.5 97.6,152.3 92.0,155.5 84.0,159.0 74.0,161.0 64.0,153.0 58.0,148.0" fill="#b3b4b8"/>
<polygon points="87.0,133.0 93.2,135.8 98.0,136.2 98.0,140.4 103.3,141.3 103.3,146.6 98.5,147.2 97.6,152.3 92.3,155.4 87.5,151.0 86.0,146.0 87.0,140.0" fill="#85868b"/>
<polygon points="87.0,140.2 98.3,141.2 98.3,142.9 87.0,142.2" fill="#c4c5c8"/>
<polygon points="86.5,146.3 97.6,147.7 97.6,149.3 86.5,148.0" fill="#c4c5c8"/>
<line x1="83.1" y1="129.8" x2="93.2" y2="135.9" stroke="#505054" stroke-width="0.9"/>
<polygon points="57.2,145.6 64.0,140.4 67.2,138.8 77.2,131.2 82.8,129.6 87.0,133.0 87.0,140.0 86.0,146.0 80.4,147.6 74.0,151.4 66.0,152.2 61.2,150.6 58.0,147.4" fill="#fbfbfb"/>
<polygon points="36.7,231.3 44.7,236.7 44.0,310.0 36.7,306.0" fill="#d6d7da"/>
<polygon points="36.7,231.3 104.7,226.5 112.0,231.3 44.7,236.7" fill="#f0f0f1"/>
<polygon points="44.7,236.7 112.0,231.3 111.3,303.3 44.0,310.0" fill="url(#g2)"/>
<polygon points="55.3,220.5 58.0,219.3 85.3,218.3 86.5,219.5 86.5,230.0 55.8,233.3" fill="#ececee"/>
<polyline points="55.3,220.5 58.0,219.3 85.3,218.3" fill="none" stroke="#f6f6f7" stroke-width="1.2"/>
<circle cx="61" cy="229.5" r="1.2" fill="#2e2e30"/>
<circle cx="52" cy="244" r="1.9" fill="#3c3c3e"/>
<circle cx="52.4" cy="244.5" r="2.4" fill="none" stroke="#bdbdc0" stroke-width="0.6"/>
<circle cx="108" cy="235.3" r="1.9" fill="#3c3c3e"/>
<circle cx="108.4" cy="235.8" r="2.4" fill="none" stroke="#bdbdc0" stroke-width="0.6"/>
<circle cx="51.3" cy="303.3" r="1.9" fill="#3c3c3e"/>
<circle cx="51.699999999999996" cy="303.8" r="2.4" fill="none" stroke="#bdbdc0" stroke-width="0.6"/>
<circle cx="106" cy="294" r="1.9" fill="#3c3c3e"/>
<circle cx="106.4" cy="294.5" r="2.4" fill="none" stroke="#bdbdc0" stroke-width="0.6"/>
<rect x="63.5" y="305.4" width="5" height="1.8" fill="#555"/>
<rect x="88.8" y="301.4" width="5" height="1.8" fill="#555"/>
<polyline points="112.0,231.3 111.3,303.3 44.0,310.0" fill="none" stroke="#bdbec1" stroke-width="0.8"/>
<line x1="44.7" y1="236.7" x2="44" y2="310" stroke="#d2d3d6" stroke-width="0.6"/>
<rect x="66.0" y="240.0" width="3.6" height="2.2" fill="#b4b5b8"/>
<rect x="66.0" y="243.0" width="3.6" height="1.4" fill="#c2c3c6"/>
<rect x="70.4" y="240.0" width="3.6" height="2.2" fill="#b4b5b8"/>
<rect x="70.4" y="243.0" width="3.6" height="1.4" fill="#c2c3c6"/>
<rect x="74.8" y="240.0" width="3.6" height="2.2" fill="#b4b5b8"/>
<rect x="74.8" y="243.0" width="3.6" height="1.4" fill="#c2c3c6"/>
<rect x="79.2" y="240.0" width="3.6" height="2.2" fill="#b4b5b8"/>
<rect x="79.2" y="243.0" width="3.6" height="1.4" fill="#c2c3c6"/>
<rect x="83.6" y="240.0" width="3.6" height="2.2" fill="#b4b5b8"/>
<rect x="83.6" y="243.0" width="3.6" height="1.4" fill="#c2c3c6"/>
<rect x="77.5" y="296.0" width="1" height="4" fill="#a9aaad"/>
<rect x="81.5" y="296.0" width="1" height="4" fill="#a9aaad"/>
<rect x="72.5" y="221.0" width="3" height="4" fill="#b3aa88"/>
<rect x="60.2" y="229.6" width="1.6" height="1.8" fill="#6a6a6c"/>
<rect x="64.1" y="229.6" width="1.6" height="1.8" fill="#6a6a6c"/>
<rect x="67.9" y="229.6" width="1.6" height="1.8" fill="#6a6a6c"/>
<rect x="71.8" y="229.6" width="1.6" height="1.8" fill="#6a6a6c"/>
<rect x="75.6" y="229.6" width="1.6" height="1.8" fill="#6a6a6c"/>
<rect x="79.5" y="229.6" width="1.6" height="1.8" fill="#6a6a6c"/>
<rect x="83.3" y="229.6" width="1.6" height="1.8" fill="#6a6a6c"/>
<rect x="87.2" y="229.6" width="1.6" height="1.8" fill="#6a6a6c"/>
<polygon points="57.2,269.9 63.9,265.0 66.7,263.1 76.2,255.4 81.9,254.0 86.7,256.3 93.3,260.2 96.2,260.5 101.2,265.3 101.2,270.5 96.6,271.3 95.8,276.0 90.5,279.1 82.9,282.5 73.4,284.4 63.9,276.7 58.2,271.8" fill="#b3b4b8"/>
<polygon points="85.7,257.3 91.6,260.0 96.2,260.4 96.2,264.5 101.2,265.3 101.2,270.5 96.6,271.0 95.8,276.0 90.7,279.0 86.2,274.7 84.8,269.9 85.7,264.1" fill="#85868b"/>
<polygon points="85.7,264.3 96.4,265.2 96.4,266.9 85.7,266.2" fill="#c4c5c8"/>
<polygon points="85.2,270.2 95.8,271.5 95.8,273.1 85.2,271.8" fill="#c4c5c8"/>
<line x1="82.0" y1="254.2" x2="91.6" y2="260.1" stroke="#505054" stroke-width="0.9"/>
<polygon points="57.4,269.5 63.9,264.5 66.9,262.9 76.4,255.5 81.7,254.0 85.7,257.3 85.7,264.1 84.8,269.9 79.4,271.4 73.4,275.1 65.8,275.9 61.2,274.3 58.2,271.2" fill="#fbfbfb"/>
<polygon points="39.3,370.0 46.0,376.0 46.0,442.0 39.3,438.7" fill="#c7c8cb"/>
<polygon points="39.3,370.0 104.7,366.0 111.3,370.0 46.0,376.0" fill="#ececee"/>
<polygon points="46.0,376.0 111.3,370.0 110.7,430.0 46.0,442.0" fill="url(#g3)"/>
<polygon points="60.0,361.8 63.0,360.7 92.0,359.8 93.3,361.0 93.3,367.5 60.0,370.5" fill="#e6e6e8"/>
<polyline points="60.0,361.8 63.0,360.7 92.0,359.8" fill="none" stroke="#f6f6f7" stroke-width="1.2"/>
<circle cx="69.3" cy="367" r="2.4" fill="#2e2e30"/>
<circle cx="89.3" cy="366.4" r="2.2" fill="#2e2e30"/>
<circle cx="51.3" cy="380" r="1.9" fill="#3c3c3e"/>
<circle cx="51.699999999999996" cy="380.5" r="2.4" fill="none" stroke="#bdbdc0" stroke-width="0.6"/>
<circle cx="108.7" cy="375.3" r="1.9" fill="#3c3c3e"/>
<circle cx="109.10000000000001" cy="375.8" r="2.4" fill="none" stroke="#bdbdc0" stroke-width="0.6"/>
<circle cx="51" cy="436.7" r="1.9" fill="#3c3c3e"/>
<circle cx="51.4" cy="437.2" r="2.4" fill="none" stroke="#bdbdc0" stroke-width="0.6"/>
<circle cx="106.7" cy="429.7" r="1.9" fill="#3c3c3e"/>
<circle cx="107.10000000000001" cy="430.2" r="2.4" fill="none" stroke="#bdbdc0" stroke-width="0.6"/>
<rect x="66.2" y="437.4" width="5" height="1.8" fill="#555"/>
<rect x="88.8" y="434.09999999999997" width="5" height="1.8" fill="#555"/>
<polyline points="111.3,370.0 110.7,430.0 46.0,442.0" fill="none" stroke="#bdbec1" stroke-width="0.8"/>
<line x1="46" y1="376" x2="46" y2="442" stroke="#d2d3d6" stroke-width="0.6"/>
<rect x="71.2" y="376.5" width="3.2" height="2.2" fill="#b4b5b8"/>
<rect x="71.2" y="379.5" width="3.2" height="1.4" fill="#c2c3c6"/>
<rect x="75.2" y="376.5" width="3.2" height="2.2" fill="#b4b5b8"/>
<rect x="75.2" y="379.5" width="3.2" height="1.4" fill="#c2c3c6"/>
<rect x="79.2" y="376.5" width="3.2" height="2.2" fill="#b4b5b8"/>
<rect x="79.2" y="379.5" width="3.2" height="1.4" fill="#c2c3c6"/>
<rect x="83.2" y="376.5" width="3.2" height="2.2" fill="#b4b5b8"/>
<rect x="83.2" y="379.5" width="3.2" height="1.4" fill="#c2c3c6"/>
<rect x="87.2" y="376.5" width="3.2" height="2.2" fill="#b4b5b8"/>
<rect x="87.2" y="379.5" width="3.2" height="1.4" fill="#c2c3c6"/>
<rect x="77.5" y="429.0" width="1" height="4" fill="#a9aaad"/>
<rect x="81.5" y="429.0" width="1" height="4" fill="#a9aaad"/>
<rect x="77.5" y="360.5" width="3" height="4" fill="#b3aa88"/>
<polygon points="56.0,405.1 63.2,400.1 66.3,398.1 76.6,390.2 82.7,388.8 87.9,391.2 95.1,395.2 98.2,395.5 103.6,400.4 103.6,405.7 98.7,406.6 97.7,411.4 92.0,414.5 83.8,418.0 73.5,420.0 63.2,412.1 57.0,407.1" fill="#b3b4b8"/>
<polygon points="86.8,392.2 93.2,395.0 98.2,395.4 98.2,399.5 103.6,400.4 103.6,405.7 98.7,406.3 97.7,411.4 92.3,414.4 87.4,410.1 85.8,405.1 86.8,399.1" fill="#85868b"/>
<polygon points="86.8,399.3 98.5,400.3 98.5,402.0 86.8,401.3" fill="#c4c5c8"/>
<polygon points="86.3,405.4 97.7,406.8 97.7,408.4 86.3,407.1" fill="#c4c5c8"/>
<line x1="82.8" y1="389.0" x2="93.2" y2="395.1" stroke="#505054" stroke-width="0.9"/>
<polygon points="56.2,404.7 63.2,399.5 66.5,397.9 76.8,390.4 82.5,388.8 86.8,392.2 86.8,399.1 85.8,405.1 80.1,406.7 73.5,410.5 65.3,411.3 60.3,409.7 57.0,406.5" fill="#fbfbfb"/>
<polygon points="36.0,471.0 44.0,477.7 43.3,552.3 36.0,548.3" fill="#d6d7da"/>
<polygon points="36.0,471.0 104.7,467.0 111.3,470.3 44.0,477.7" fill="#f0f0f1"/>
<polygon points="44.0,477.7 111.3,470.3 110.7,545.7 43.3,552.3" fill="url(#g4)"/>
<polygon points="57.3,462.0 60.0,460.5 90.0,460.0 91.3,461.0 91.3,469.7 57.3,473.7" fill="#ececee"/>
<polyline points="57.3,462.0 60.0,460.5 90.0,460.0" fill="none" stroke="#f6f6f7" stroke-width="1.2"/>
<circle cx="60" cy="470" r="1.0" fill="#2e2e30"/>
<circle cx="50.7" cy="483" r="1.9" fill="#3c3c3e"/>
<circle cx="51.1" cy="483.5" r="2.4" fill="none" stroke="#bdbdc0" stroke-width="0.6"/>
<circle cx="108" cy="475" r="1.9" fill="#3c3c3e"/>
<circle cx="108.4" cy="475.5" r="2.4" fill="none" stroke="#bdbdc0" stroke-width="0.6"/>
<circle cx="51.3" cy="547" r="1.9" fill="#3c3c3e"/>
<circle cx="51.699999999999996" cy="547.5" r="2.4" fill="none" stroke="#bdbdc0" stroke-width="0.6"/>
<circle cx="106" cy="537" r="1.9" fill="#3c3c3e"/>
<circle cx="106.4" cy="537.5" r="2.4" fill="none" stroke="#bdbdc0" stroke-width="0.6"/>
<rect x="66.2" y="547.1" width="5" height="1.8" fill="#555"/>
<rect x="88.2" y="543.1" width="5" height="1.8" fill="#555"/>
<polyline points="111.3,470.3 110.7,545.7 43.3,552.3" fill="none" stroke="#bdbec1" stroke-width="0.8"/>
<line x1="44" y1="477.7" x2="43.3" y2="552.3" stroke="#d2d3d6" stroke-width="0.6"/>
<rect x="66.0" y="481.0" width="3.4" height="2.2" fill="#b4b5b8"/>
<rect x="66.0" y="484.0" width="3.4" height="1.4" fill="#c2c3c6"/>
<rect x="70.2" y="481.0" width="3.4" height="2.2" fill="#b4b5b8"/>
<rect x="70.2" y="484.0" width="3.4" height="1.4" fill="#c2c3c6"/>
<rect x="74.4" y="481.0" width="3.4" height="2.2" fill="#b4b5b8"/>
<rect x="74.4" y="484.0" width="3.4" height="1.4" fill="#c2c3c6"/>
<rect x="78.6" y="481.0" width="3.4" height="2.2" fill="#b4b5b8"/>
<rect x="78.6" y="484.0" width="3.4" height="1.4" fill="#c2c3c6"/>
<rect x="82.8" y="481.0" width="3.4" height="2.2" fill="#b4b5b8"/>
<rect x="82.8" y="484.0" width="3.4" height="1.4" fill="#c2c3c6"/>
<rect x="77.5" y="536.0" width="1" height="4" fill="#a9aaad"/>
<rect x="81.5" y="536.0" width="1" height="4" fill="#a9aaad"/>
<rect x="72.5" y="461.0" width="3" height="4" fill="#b3aa88"/>
<rect x="62.2" y="469.6" width="1.6" height="1.8" fill="#6a6a6c"/>
<rect x="65.9" y="469.6" width="1.6" height="1.8" fill="#6a6a6c"/>
<rect x="69.6" y="469.6" width="1.6" height="1.8" fill="#6a6a6c"/>
<rect x="73.3" y="469.6" width="1.6" height="1.8" fill="#6a6a6c"/>
<rect x="77.1" y="469.6" width="1.6" height="1.8" fill="#6a6a6c"/>
<rect x="80.8" y="469.6" width="1.6" height="1.8" fill="#6a6a6c"/>
<rect x="84.5" y="469.6" width="1.6" height="1.8" fill="#6a6a6c"/>
<rect x="88.2" y="469.6" width="1.6" height="1.8" fill="#6a6a6c"/>
<polygon points="56.0,506.6 69.2,503.4 70.8,501.0 80.4,494.6 88.4,497.0 91.2,499.4 103.2,499.4 103.2,514.6 98.0,514.6 92.4,518.6 84.4,524.2 74.0,525.8 68.4,522.6 56.0,522.6" fill="#c0c1c4"/>
<polygon points="56.0,506.6 69.2,503.4 70.8,501.0 80.4,494.6 88.4,497.0 91.2,499.4 91.2,508.2 82.8,509.0 78.8,512.2 66.0,517.0 56.0,515.4" fill="#fbfbfb"/>
<polygon points="38.7,618.6 45.4,624.3 45.4,678.0 38.7,675.6" fill="#c9cacd"/>
<polygon points="38.7,618.6 121.7,614.3 128.0,617.3 45.4,624.3" fill="#ececee"/>
<polygon points="45.4,624.3 128.0,617.3 127.2,669.4 45.4,678.0" fill="url(#g5)"/>
<polygon points="69.7,611.0 72.0,609.8 99.5,609.3 100.7,610.3 100.7,617.8 69.7,620.0" fill="#e6e6e8"/>
<polyline points="69.7,611.0 72.0,609.8 99.5,609.3" fill="none" stroke="#f6f6f7" stroke-width="1.2"/>
<circle cx="78.8" cy="616.6" r="2.2" fill="#2e2e30"/>
<circle cx="97" cy="615.6" r="2.0" fill="#2e2e30"/>
<circle cx="49.8" cy="627.2" r="1.9" fill="#3c3c3e"/>
<circle cx="50.199999999999996" cy="627.7" r="2.4" fill="none" stroke="#bdbdc0" stroke-width="0.6"/>
<circle cx="125" cy="622.8" r="1.9" fill="#3c3c3e"/>
<circle cx="125.4" cy="623.3" r="2.4" fill="none" stroke="#bdbdc0" stroke-width="0.6"/>
<circle cx="48.6" cy="674.8" r="1.9" fill="#3c3c3e"/>
<circle cx="49.0" cy="675.3" r="2.4" fill="none" stroke="#bdbdc0" stroke-width="0.6"/>
<circle cx="121.7" cy="666.9" r="1.9" fill="#3c3c3e"/>
<circle cx="122.10000000000001" cy="667.4" r="2.4" fill="none" stroke="#bdbdc0" stroke-width="0.6"/>
<rect x="73.4" y="674.4000000000001" width="5" height="1.8" fill="#555"/>
<rect x="94.5" y="672.0" width="5" height="1.8" fill="#555"/>
<polyline points="128.0,617.3 127.2,669.4 45.4,678.0" fill="none" stroke="#bdbec1" stroke-width="0.8"/>
<line x1="45.4" y1="624.3" x2="45.4" y2="678" stroke="#d2d3d6" stroke-width="0.6"/>
<rect x="78.0" y="624.0" width="3.2" height="2.2" fill="#b4b5b8"/>
<rect x="78.0" y="627.0" width="3.2" height="1.4" fill="#c2c3c6"/>
<rect x="82.0" y="624.0" width="3.2" height="2.2" fill="#b4b5b8"/>
<rect x="82.0" y="627.0" width="3.2" height="1.4" fill="#c2c3c6"/>
<rect x="86.0" y="624.0" width="3.2" height="2.2" fill="#b4b5b8"/>
<rect x="86.0" y="627.0" width="3.2" height="1.4" fill="#c2c3c6"/>
<rect x="90.0" y="624.0" width="3.2" height="2.2" fill="#b4b5b8"/>
<rect x="90.0" y="627.0" width="3.2" height="1.4" fill="#c2c3c6"/>
<rect x="94.0" y="624.0" width="3.2" height="2.2" fill="#b4b5b8"/>
<rect x="94.0" y="627.0" width="3.2" height="1.4" fill="#c2c3c6"/>
<rect x="81.5" y="666.0" width="1" height="4" fill="#a9aaad"/>
<rect x="85.5" y="666.0" width="1" height="4" fill="#a9aaad"/>
<rect x="84.5" y="610.0" width="3" height="4" fill="#b3aa88"/>
<polygon points="59.2,641.8 76.5,639.5 89.5,633.0 98.9,638.0 105.4,638.5 115.2,638.5 115.2,654.0 103.6,654.0 94.2,658.0 83.0,661.4 71.8,656.0 59.2,658.6" fill="#c0c1c4"/>
<polygon points="59.2,642.3 76.5,640.0 89.5,633.4 98.9,638.0 105.4,640.0 105.4,648.3 94.2,649.3 83.0,654.9 69.0,652.0 59.2,652.0" fill="#fbfbfb"/>
<polygon points="37.4,730.1 43.6,733.9 43.6,805.3 37.4,798.3" fill="#d6d7da"/>
<polygon points="37.4,730.1 119.3,722.7 127.2,726.4 43.6,733.9" fill="#f0f0f1"/>
<polygon points="43.6,733.9 127.2,726.4 126.7,793.4 43.6,805.3" fill="url(#g6)"/>
<polygon points="67.2,720.5 69.0,718.8 97.0,718.2 98.2,719.0 98.2,726.4 67.2,728.9" fill="#ececee"/>
<polyline points="67.2,720.5 69.0,718.8 97.0,718.2" fill="none" stroke="#f6f6f7" stroke-width="1.2"/>
<circle cx="70" cy="726" r="1.0" fill="#2e2e30"/>
<circle cx="47.9" cy="738.8" r="1.9" fill="#3c3c3e"/>
<circle cx="48.3" cy="739.3" r="2.4" fill="none" stroke="#bdbdc0" stroke-width="0.6"/>
<circle cx="124.2" cy="728.2" r="1.9" fill="#3c3c3e"/>
<circle cx="124.60000000000001" cy="728.7" r="2.4" fill="none" stroke="#bdbdc0" stroke-width="0.6"/>
<circle cx="47.9" cy="800.8" r="1.9" fill="#3c3c3e"/>
<circle cx="48.3" cy="801.3" r="2.4" fill="none" stroke="#bdbdc0" stroke-width="0.6"/>
<circle cx="122.2" cy="788.4" r="1.9" fill="#3c3c3e"/>
<circle cx="122.60000000000001" cy="788.9" r="2.4" fill="none" stroke="#bdbdc0" stroke-width="0.6"/>
<rect x="73.4" y="799.2" width="5" height="1.8" fill="#555"/>
<rect x="94.5" y="795.7" width="5" height="1.8" fill="#555"/>
<polyline points="127.2,726.4 126.7,793.4 43.6,805.3" fill="none" stroke="#bdbec1" stroke-width="0.8"/>
<line x1="43.6" y1="733.9" x2="43.6" y2="805.3" stroke="#d2d3d6" stroke-width="0.6"/>
<rect x="74.0" y="736.0" width="3.6" height="2.2" fill="#b4b5b8"/>
<rect x="74.0" y="739.0" width="3.6" height="1.4" fill="#c2c3c6"/>
<rect x="78.4" y="736.0" width="3.6" height="2.2" fill="#b4b5b8"/>
<rect x="78.4" y="739.0" width="3.6" height="1.4" fill="#c2c3c6"/>
<rect x="82.8" y="736.0" width="3.6" height="2.2" fill="#b4b5b8"/>
<rect x="82.8" y="739.0" width="3.6" height="1.4" fill="#c2c3c6"/>
<rect x="87.2" y="736.0" width="3.6" height="2.2" fill="#b4b5b8"/>
<rect x="87.2" y="739.0" width="3.6" height="1.4" fill="#c2c3c6"/>
<rect x="91.6" y="736.0" width="3.6" height="2.2" fill="#b4b5b8"/>
<rect x="91.6" y="739.0" width="3.6" height="1.4" fill="#c2c3c6"/>
<rect x="83.5" y="788.0" width="1" height="4" fill="#a9aaad"/>
<rect x="87.5" y="788.0" width="1" height="4" fill="#a9aaad"/>
<rect x="78.5" y="718.5" width="3" height="4" fill="#b3aa88"/>
<rect x="70.2" y="725.6" width="1.6" height="1.8" fill="#6a6a6c"/>
<rect x="74.2" y="725.6" width="1.6" height="1.8" fill="#6a6a6c"/>
<rect x="78.2" y="725.6" width="1.6" height="1.8" fill="#6a6a6c"/>
<rect x="82.2" y="725.6" width="1.6" height="1.8" fill="#6a6a6c"/>
<rect x="86.2" y="725.6" width="1.6" height="1.8" fill="#6a6a6c"/>
<rect x="90.2" y="725.6" width="1.6" height="1.8" fill="#6a6a6c"/>
<rect x="94.2" y="725.6" width="1.6" height="1.8" fill="#6a6a6c"/>
<polygon points="59.0,755.8 79.9,752.0 89.5,747.8 104.4,748.3 114.5,747.3 114.5,772.3 105.5,772.3 95.9,779.8 82.0,778.7 59.0,782.5" fill="#c0c1c4"/>
<polygon points="59.0,755.8 79.9,752.0 89.5,747.8 104.4,748.3 104.4,768.0 86.3,771.3 76.7,773.4 59.0,774.5" fill="#fbfbfb"/>
</svg>
<svg class="a" style="left:0;top:0" width="750" height="908" viewBox="0 0 750 908" font-family="Liberation Sans"><line x1="445.0" y1="91.6" x2="500.0" y2="91.6" stroke="#6a6a6a" stroke-width="0.6"/>
<line x1="445.0" y1="181.6" x2="478.0" y2="181.6" stroke="#6a6a6a" stroke-width="0.6"/>
<line x1="450.4" y1="91.6" x2="450.4" y2="181.6" stroke="#444" stroke-width="0.6"/>
<polygon points="450.4,91.6 451.4,95.1 449.4,95.1" fill="#333"/>
<polygon points="450.4,181.6 449.4,178.1 451.4,178.1" fill="#333"/>
<text x="0" y="0" font-size="8.2" text-anchor="middle" fill="#333" transform="translate(448.0 136.6) rotate(-90) scale(0.8 1)">140max</text>
<rect x="478.2" y="102.4" width="78.0" height="79.2" rx="4" fill="#fbfbfb" stroke="#585858" stroke-width="1.35"/><rect x="479.8" y="104.0" width="74.8" height="76.0" rx="2.5" fill="#e8e9eb"/>
<line x1="458.0" y1="132.0" x2="498.0" y2="132.0" stroke="#8a8a8a" stroke-width="0.6"/>
<line x1="458.0" y1="138.7" x2="498.0" y2="138.7" stroke="#8a8a8a" stroke-width="0.6"/>
<line x1="458.0" y1="145.8" x2="498.0" y2="145.8" stroke="#8a8a8a" stroke-width="0.6"/>
<line x1="458.0" y1="152.4" x2="498.0" y2="152.4" stroke="#8a8a8a" stroke-width="0.6"/>
<line x1="460.4" y1="132.0" x2="460.4" y2="152.4" stroke="#444" stroke-width="0.6"/>
<polygon points="460.4,132.0 461.4,135.5 459.4,135.5" fill="#333"/>
<polygon points="460.4,152.4 459.4,148.9 461.4,148.9" fill="#333"/>
<text x="0" y="0" font-size="8.2" text-anchor="middle" fill="#333" transform="translate(458.6 142.2) rotate(-90) scale(0.8 1)">30.5</text>
<line x1="469.2" y1="134.8" x2="469.2" y2="149.1" stroke="#444" stroke-width="0.6"/>
<polygon points="469.2,134.8 470.2,138.3 468.2,138.3" fill="#333"/>
<polygon points="469.2,149.1 468.2,145.6 470.2,145.6" fill="#333"/>
<text x="0" y="0" font-size="8.2" text-anchor="middle" fill="#333" transform="translate(467.6 141.9) rotate(-90) scale(0.8 1)">11</text>
<path d="M497.4,102.6 V92.6 H506.2 L507.7,93.6 H526.9 L528.4,92.6 H537.2 V102.6" fill="#ededee" stroke="#3a3a3a" stroke-width="1"/>
<line x1="497.4" y1="100.6" x2="537.2" y2="100.6" stroke="#3a3a3a" stroke-width="0.8"/>
<circle cx="502.4" cy="97.1" r="1.8" fill="#e8e0c8" stroke="#555" stroke-width="0.5"/>
<circle cx="530.6" cy="97.1" r="1.8" fill="#e8e0c8" stroke="#555" stroke-width="0.5"/>
<rect x="503" y="106.6" width="28.5" height="8.2" rx="1" fill="#f8f8f8" stroke="#555" stroke-width="0.7"/>
<rect x="494.8" y="110.4" width="4.4" height="4.4" fill="#ddd" stroke="#555" stroke-width="0.6"/>
<rect x="535.8" y="110.4" width="4.4" height="4.4" fill="#ddd" stroke="#555" stroke-width="0.6"/>
<circle cx="485" cy="108.8" r="2.6" fill="#c8c8bc" stroke="#888" stroke-width="0.5"/>
<circle cx="485" cy="108.8" r="0.9" fill="#888"/>
<circle cx="549.2" cy="108.8" r="2.6" fill="#c8c8bc" stroke="#888" stroke-width="0.5"/>
<circle cx="549.2" cy="108.8" r="0.9" fill="#888"/>
<circle cx="485" cy="175" r="2.6" fill="#c8c8bc" stroke="#888" stroke-width="0.5"/>
<circle cx="485" cy="175" r="0.9" fill="#888"/>
<circle cx="549.2" cy="175" r="2.6" fill="#c8c8bc" stroke="#888" stroke-width="0.5"/>
<circle cx="549.2" cy="175" r="0.9" fill="#888"/>
<circle cx="517.3" cy="141.7" r="18" fill="#fff" stroke="#6e6e6e" stroke-width="0.9"/>
<rect x="497.5" y="131.7" width="39.6" height="20.0" fill="#fff" stroke="#6e6e6e" stroke-width="0.9"/>
<rect x="490.9" y="138.1" width="52.8" height="7.2" fill="#fff" stroke="#6e6e6e" stroke-width="0.9"/>
<circle cx="517.3" cy="141.7" r="17.3" fill="#fff"/>
<rect x="498.0" y="132.2" width="38.6" height="19.0" fill="#fff"/>
<rect x="491.4" y="138.6" width="51.8" height="6.2" fill="#fff"/>
<rect x="512.4" y="168.7" width="10" height="6.6" rx="0.8" fill="#f4f4f4" stroke="#444" stroke-width="0.7"/><text x="0" y="0" font-size="5.6" text-anchor="middle" fill="#2a2a2a" transform="translate(517.4 174.1) rotate(0) scale(0.85 1)">P1</text>
<rect x="497.6" y="178.5" width="6" height="4" fill="none" stroke="#666" stroke-width="0.6"/>
<line x1="500.6" y1="177.5" x2="500.6" y2="183.5" stroke="#666" stroke-width="0.5"/>
<rect x="530.6" y="178.5" width="6" height="4" fill="none" stroke="#666" stroke-width="0.6"/>
<line x1="533.6" y1="177.5" x2="533.6" y2="183.5" stroke="#666" stroke-width="0.5"/>
<line x1="517.4" y1="87.0" x2="517.4" y2="218.0" stroke="#555" stroke-width="0.6" stroke-dasharray="5,1.5,1,1.5"/><line x1="474.0" y1="141.4" x2="562.0" y2="141.4" stroke="#555" stroke-width="0.6" stroke-dasharray="5,1.5,1,1.5"/>
<line x1="502.0" y1="123.4" x2="559.4" y2="194.0" stroke="#333" stroke-width="0.6"/>
<polygon points="502.0,123.4 505.0,125.5 503.4,126.8" fill="#333"/>
<polygon points="533.0,162.5 530.0,160.4 531.6,159.1" fill="#333"/>
<text x="0" y="0" font-size="3.6" text-anchor="start" fill="#777" transform="translate(560.4 196.8) rotate(0) scale(0.85 1)">Reducer</text>
<line x1="562.4" y1="201.3" x2="575.6" y2="201.3" stroke="#999" stroke-width="0.5"/>
<line x1="490.5" y1="146.0" x2="490.5" y2="208.5" stroke="#6a6a6a" stroke-width="0.5"/>
<line x1="543.3" y1="146.0" x2="543.3" y2="208.5" stroke="#6a6a6a" stroke-width="0.5"/>
<line x1="497.1" y1="146.0" x2="497.1" y2="201.0" stroke="#6a6a6a" stroke-width="0.5"/>
<line x1="537.4" y1="146.0" x2="537.4" y2="201.0" stroke="#6a6a6a" stroke-width="0.5"/>
<line x1="500.8" y1="146.0" x2="500.8" y2="195.0" stroke="#6a6a6a" stroke-width="0.5"/>
<line x1="533.8" y1="146.0" x2="533.8" y2="195.0" stroke="#6a6a6a" stroke-width="0.5"/>
<line x1="500.8" y1="193.2" x2="533.8" y2="193.2" stroke="#444" stroke-width="0.6"/>
<polygon points="500.8,193.2 504.3,192.2 504.3,194.2" fill="#333"/>
<polygon points="533.8,193.2 530.3,194.2 530.3,192.2" fill="#333"/>
<text x="0" y="0" font-size="8.2" text-anchor="middle" fill="#333" transform="translate(517.3 191.7) rotate(0) scale(0.8 1)">50</text>
<line x1="497.1" y1="199.8" x2="537.4" y2="199.8" stroke="#444" stroke-width="0.6"/>
<polygon points="497.1,199.8 500.6,198.8 500.6,200.8" fill="#333"/>
<polygon points="537.4,199.8 533.9,200.8 533.9,198.8" fill="#333"/>
<text x="0" y="0" font-size="8.2" text-anchor="middle" fill="#333" transform="translate(517.2 198.3) rotate(0) scale(0.8 1)">50.5</text>
<line x1="490.5" y1="207.1" x2="543.3" y2="207.1" stroke="#444" stroke-width="0.6"/>
<polygon points="490.5,207.1 494.0,206.1 494.0,208.1" fill="#333"/>
<polygon points="543.3,207.1 539.8,208.1 539.8,206.1" fill="#333"/>
<text x="0" y="0" font-size="8.2" text-anchor="middle" fill="#333" transform="translate(516.9 205.7) rotate(0) scale(0.8 1)">81.5</text>
<line x1="478.8" y1="214.5" x2="555.4" y2="214.5" stroke="#444" stroke-width="0.6"/>
<polygon points="478.8,214.5 482.3,213.5 482.3,215.5" fill="#333"/>
<polygon points="555.4,214.5 551.9,215.5 551.9,213.5" fill="#333"/>
<line x1="478.8" y1="182.0" x2="478.8" y2="216.0" stroke="#6a6a6a" stroke-width="0.5"/>
<line x1="555.4" y1="182.0" x2="555.4" y2="216.0" stroke="#6a6a6a" stroke-width="0.5"/>
<text x="0" y="0" font-size="8.2" text-anchor="middle" fill="#333" transform="translate(517.1 213.7) rotate(0) scale(0.8 1)">119max</text>
<rect x="609.7" y="101.9" width="36.9" height="80.5" rx="2.5" fill="#fbfbfb" stroke="#585858" stroke-width="1.35"/><rect x="611.3" y="103.5" width="33.7" height="77.3" rx="1.0" fill="#e8e9eb"/>
<rect x="613.6" y="91.4" width="29.1" height="11.0" rx="1" fill="#ededee" stroke="#3a3a3a" stroke-width="1"/>
<line x1="613.6" y1="93.4" x2="642.7" y2="93.4" stroke="#3a3a3a" stroke-width="0.7"/>
<circle cx="628.2" cy="97.7" r="1.7" fill="#f0ead8" stroke="#666" stroke-width="0.5"/>
<rect x="627.2" y="103.4" width="2" height="77.5" fill="#f7f7f7"/>
<line x1="627.1" y1="101.9" x2="627.1" y2="182.4" stroke="#666" stroke-width="0.55"/>
<line x1="629.3" y1="101.9" x2="629.3" y2="182.4" stroke="#666" stroke-width="0.55"/>
<line x1="602.0" y1="142.3" x2="649.0" y2="142.3" stroke="#555" stroke-width="0.6" stroke-dasharray="5,1.5,1,1.5"/>
<line x1="609.7" y1="212.5" x2="646.6" y2="212.5" stroke="#444" stroke-width="0.6"/>
<polygon points="609.7,212.5 613.2,211.5 613.2,213.5" fill="#333"/>
<polygon points="646.6,212.5 643.1,213.5 643.1,211.5" fill="#333"/>
<line x1="609.7" y1="183.0" x2="609.7" y2="214.0" stroke="#6a6a6a" stroke-width="0.5"/>
<line x1="646.6" y1="183.0" x2="646.6" y2="214.0" stroke="#6a6a6a" stroke-width="0.5"/>
<text x="0" y="0" font-size="8.2" text-anchor="middle" fill="#333" transform="translate(628.2 210.5) rotate(0) scale(0.8 1)">47max</text>
<line x1="468.0" y1="219.8" x2="497.0" y2="219.8" stroke="#6a6a6a" stroke-width="0.6"/>
<line x1="468.0" y1="312.6" x2="477.0" y2="312.6" stroke="#6a6a6a" stroke-width="0.6"/>
<line x1="472.8" y1="219.8" x2="472.8" y2="312.6" stroke="#444" stroke-width="0.6"/>
<polygon points="472.8,219.8 473.8,223.3 471.8,223.3" fill="#333"/>
<polygon points="472.8,312.6 471.8,309.1 473.8,309.1" fill="#333"/>
<text x="0" y="0" font-size="8.2" text-anchor="middle" fill="#333" transform="translate(471.0 266.2) rotate(-90) scale(0.8 1)">149max</text>
<rect x="477" y="230.4" width="80.6" height="82.2" rx="4" fill="#fbfbfb" stroke="#585858" stroke-width="1.35"/><rect x="478.6" y="232.0" width="77.4" height="79.0" rx="2.5" fill="#e8e9eb"/>
<path d="M496.8,230.6 V220.8 H505.2 L506.8,221.8 H525.2 L526.8,220.8 H535.2 V230.6" fill="#ededee" stroke="#3a3a3a" stroke-width="1"/>
<line x1="496.8" y1="228.6" x2="535.2" y2="228.6" stroke="#3a3a3a" stroke-width="0.8"/>
<circle cx="530.5" cy="225.2" r="1.8" fill="#e8e0c8" stroke="#555" stroke-width="0.5"/>
<rect x="473" y="220" width="36.6" height="10.6" fill="#fbfbfb"/>
<text x="502.8" y="226.9" font-size="4.6" text-anchor="middle" fill="#aaa">cald</text>
<rect x="503.8" y="234.8" width="25.0" height="7.4" rx="1" fill="#f8f8f8" stroke="#555" stroke-width="0.7"/>
<rect x="494.0" y="239.0" width="4.4" height="4.4" fill="#ddd" stroke="#555" stroke-width="0.6"/>
<rect x="534.6" y="239.0" width="4.4" height="4.4" fill="#ddd" stroke="#555" stroke-width="0.6"/>
<circle cx="484" cy="237.4" r="2.6" fill="#d3cfbb"/>
<line x1="480.6" y1="237.4" x2="487.4" y2="237.4" stroke="#666" stroke-width="0.9"/>
<line x1="484.0" y1="234.0" x2="484.0" y2="240.8" stroke="#666" stroke-width="0.9"/>
<circle cx="549.6" cy="237.4" r="2.6" fill="#d3cfbb"/>
<line x1="546.2" y1="237.4" x2="553.0" y2="237.4" stroke="#666" stroke-width="0.9"/>
<line x1="549.6" y1="234.0" x2="549.6" y2="240.8" stroke="#666" stroke-width="0.9"/>
<circle cx="484" cy="306.2" r="2.6" fill="#d3cfbb"/>
<line x1="480.6" y1="306.2" x2="487.4" y2="306.2" stroke="#666" stroke-width="0.9"/>
<line x1="484.0" y1="302.8" x2="484.0" y2="309.6" stroke="#666" stroke-width="0.9"/>
<circle cx="549.6" cy="306.2" r="2.6" fill="#d3cfbb"/>
<line x1="546.2" y1="306.2" x2="553.0" y2="306.2" stroke="#666" stroke-width="0.9"/>
<line x1="549.6" y1="302.8" x2="549.6" y2="309.6" stroke="#666" stroke-width="0.9"/>
<circle cx="516.4" cy="271.2" r="16.8" fill="#fff" stroke="#6e6e6e" stroke-width="0.9"/>
<rect x="497.2" y="261.7" width="38.4" height="19.0" fill="#fff" stroke="#6e6e6e" stroke-width="0.9"/>
<rect x="490.5" y="267.7" width="51.8" height="7.0" fill="#fff" stroke="#6e6e6e" stroke-width="0.9"/>
<circle cx="516.4" cy="271.2" r="16.1" fill="#fff"/>
<rect x="497.7" y="262.2" width="37.4" height="18.0" fill="#fff"/>
<rect x="491.0" y="268.2" width="50.8" height="6.0" fill="#fff"/>
<line x1="516.0" y1="214.0" x2="516.0" y2="331.0" stroke="#555" stroke-width="0.6" stroke-dasharray="5,1.5,1,1.5"/><line x1="468.0" y1="272.0" x2="562.0" y2="272.0" stroke="#555" stroke-width="0.6" stroke-dasharray="5,1.5,1,1.5"/>
<line x1="532.6" y1="255.0" x2="503.8" y2="286.0" stroke="#333" stroke-width="0.6"/>
<polygon points="532.6,255.0 530.9,258.3 529.5,256.9" fill="#333"/>
<polygon points="503.8,286.0 505.5,282.7 506.9,284.1" fill="#333"/>
<text x="536.5" y="251.6" font-size="7.4" text-anchor="middle" fill="#2a2a2a">Φ52</text>
<line x1="530.0" y1="253.5" x2="548.0" y2="253.5" stroke="#444" stroke-width="0.5"/>
<line x1="493.6" y1="280.0" x2="493.6" y2="296.0" stroke="#6a6a6a" stroke-width="0.5"/>
<line x1="542.2" y1="280.0" x2="542.2" y2="296.0" stroke="#6a6a6a" stroke-width="0.5"/>
<line x1="493.6" y1="293.4" x2="542.2" y2="293.4" stroke="#444" stroke-width="0.6"/>
<polygon points="493.6,293.4 497.1,292.4 497.1,294.4" fill="#333"/>
<polygon points="542.2,293.4 538.7,294.4 538.7,292.4" fill="#333"/>
<text x="0" y="0" font-size="8.2" text-anchor="middle" fill="#333" transform="translate(517.9 292.5) rotate(0) scale(0.8 1)">82</text>
<line x1="538.0" y1="262.5" x2="552.0" y2="262.5" stroke="#6a6a6a" stroke-width="0.5"/>
<line x1="538.0" y1="281.5" x2="552.0" y2="281.5" stroke="#6a6a6a" stroke-width="0.5"/>
<line x1="548.0" y1="262.5" x2="548.0" y2="281.5" stroke="#444" stroke-width="0.6"/>
<polygon points="548.0,262.5 549.0,266.0 547.0,266.0" fill="#333"/>
<polygon points="548.0,281.5 547.0,278.0 549.0,278.0" fill="#333"/>
<text x="0" y="0" font-size="8.2" text-anchor="middle" fill="#333" transform="translate(546.5 272.0) rotate(-90) scale(0.8 1)">11</text>
<circle cx="539.3" cy="299.7" r="1.3" fill="none" stroke="#444" stroke-width="0.6"/>
<rect x="510.6" y="300.3" width="12" height="6.6" rx="0.8" fill="#f4f4f4" stroke="#444" stroke-width="0.7"/><text x="0" y="0" font-size="5.6" text-anchor="middle" fill="#2a2a2a" transform="translate(516.6 305.7) rotate(0) scale(0.85 1)">P1</text>
<rect x="498.0" y="309.0" width="6" height="4" fill="none" stroke="#666" stroke-width="0.6"/>
<line x1="501.0" y1="308.0" x2="501.0" y2="314.0" stroke="#666" stroke-width="0.5"/>
<rect x="529.0" y="309.0" width="6" height="4" fill="none" stroke="#666" stroke-width="0.6"/>
<line x1="532.0" y1="308.0" x2="532.0" y2="314.0" stroke="#666" stroke-width="0.5"/>
<line x1="501.0" y1="312.0" x2="501.0" y2="322.0" stroke="#6a6a6a" stroke-width="0.5"/>
<line x1="532.0" y1="312.0" x2="532.0" y2="322.0" stroke="#6a6a6a" stroke-width="0.5"/>
<line x1="501.0" y1="320.6" x2="532.0" y2="320.6" stroke="#444" stroke-width="0.6"/>
<polygon points="501.0,320.6 504.5,319.6 504.5,321.6" fill="#333"/>
<polygon points="532.0,320.6 528.5,321.6 528.5,319.6" fill="#333"/>
<text x="0" y="0" font-size="8.2" text-anchor="middle" fill="#333" transform="translate(516.5 319.8) rotate(0) scale(0.8 1)">50</text>
<line x1="477.0" y1="326.6" x2="557.6" y2="326.6" stroke="#444" stroke-width="0.6"/>
<polygon points="477.0,326.6 480.5,325.6 480.5,327.6" fill="#333"/>
<polygon points="557.6,326.6 554.1,327.6 554.1,325.6" fill="#333"/>
<line x1="477.0" y1="313.0" x2="477.0" y2="328.1" stroke="#6a6a6a" stroke-width="0.5"/>
<line x1="557.6" y1="313.0" x2="557.6" y2="328.1" stroke="#6a6a6a" stroke-width="0.5"/>
<text x="0" y="0" font-size="8.2" text-anchor="middle" fill="#333" transform="translate(517.3 327.8) rotate(0) scale(0.8 1)">127max</text>
<rect x="605" y="230.4" width="28.8" height="82.2" rx="2.5" fill="#fbfbfb" stroke="#585858" stroke-width="1.35"/><rect x="606.6" y="232.0" width="25.6" height="79.0" rx="1.0" fill="#e8e9eb"/>
<rect x="610.4" y="219.8" width="19.2" height="11.1" rx="1" fill="#ededee" stroke="#3a3a3a" stroke-width="1"/>
<line x1="610.4" y1="221.8" x2="629.6" y2="221.8" stroke="#3a3a3a" stroke-width="0.7"/>
<circle cx="619.4" cy="226.1" r="1.7" fill="#f0ead8" stroke="#666" stroke-width="0.5"/>
<rect x="618.4" y="231.9" width="2" height="79.2" fill="#f7f7f7"/>
<line x1="618.3" y1="230.4" x2="618.3" y2="312.6" stroke="#666" stroke-width="0.55"/>
<line x1="620.5" y1="230.4" x2="620.5" y2="312.6" stroke="#666" stroke-width="0.55"/>
<line x1="598.0" y1="272.0" x2="638.0" y2="272.0" stroke="#555" stroke-width="0.6" stroke-dasharray="5,1.5,1,1.5"/>
<line x1="605.0" y1="320.0" x2="633.8" y2="320.0" stroke="#444" stroke-width="0.6"/>
<polygon points="605.0,320.0 608.5,319.0 608.5,321.0" fill="#333"/>
<polygon points="633.8,320.0 630.3,321.0 630.3,319.0" fill="#333"/>
<line x1="605.0" y1="313.0" x2="605.0" y2="321.5" stroke="#6a6a6a" stroke-width="0.5"/>
<line x1="633.8" y1="313.0" x2="633.8" y2="321.5" stroke="#6a6a6a" stroke-width="0.5"/>
<text x="0" y="0" font-size="8.2" text-anchor="middle" fill="#333" transform="translate(619.4 319.2) rotate(0) scale(0.8 1)">47max</text>
<text x="568.2" y="337.3" font-size="7.3" text-anchor="middle" fill="#505050" letter-spacing="0.16">(2000/5a~2500/5a1 level 0.5)</text>
<line x1="448.0" y1="351.4" x2="505.0" y2="351.4" stroke="#6a6a6a" stroke-width="0.5"/>
<line x1="448.0" y1="430.8" x2="481.0" y2="430.8" stroke="#6a6a6a" stroke-width="0.5"/>
<line x1="452.0" y1="351.4" x2="452.0" y2="430.8" stroke="#444" stroke-width="0.6"/>
<polygon points="452.0,351.4 453.0,354.9 451.0,354.9" fill="#333"/>
<polygon points="452.0,430.8 451.0,427.3 453.0,427.3" fill="#333"/>
<text x="0" y="0" font-size="3.2" text-anchor="middle" fill="#333" transform="translate(450.0 391.1) rotate(-90) scale(0.8 1)">146max-1</text>
<rect x="481.4" y="359.4" width="74.6" height="71.4" rx="3.5" fill="#fbfbfb" stroke="#585858" stroke-width="1.35"/><rect x="483.0" y="361.0" width="71.4" height="68.2" rx="2.0" fill="#e8e9eb"/>
<path d="M503.8,359.6 V352.4 H510.6 L511.8,353.4 H526.6 L527.8,352.4 H534.6 V359.6" fill="#ededee" stroke="#3a3a3a" stroke-width="1"/>
<line x1="503.8" y1="357.6" x2="534.6" y2="357.6" stroke="#3a3a3a" stroke-width="0.8"/>
<circle cx="508.5" cy="355.5" r="1.8" fill="#e8e0c8" stroke="#555" stroke-width="0.5"/>
<circle cx="530" cy="355.5" r="1.8" fill="#e8e0c8" stroke="#555" stroke-width="0.5"/>
<rect x="508" y="364.8" width="25.6" height="5.8" rx="1" fill="#f8f8f8" stroke="#555" stroke-width="0.7"/>
<rect x="500.4" y="365.8" width="4.4" height="4.4" fill="#ddd" stroke="#555" stroke-width="0.6"/>
<rect x="536.3" y="365.8" width="4.4" height="4.4" fill="#ddd" stroke="#555" stroke-width="0.6"/>
<circle cx="487.2" cy="364.8" r="2.6" fill="#c8c8bc" stroke="#888" stroke-width="0.5"/>
<circle cx="487.2" cy="364.8" r="0.9" fill="#888"/>
<circle cx="549.6" cy="364.8" r="2.6" fill="#c8c8bc" stroke="#888" stroke-width="0.5"/>
<circle cx="549.6" cy="364.8" r="0.9" fill="#888"/>
<circle cx="487.2" cy="423.4" r="2.6" fill="#c8c8bc" stroke="#888" stroke-width="0.5"/>
<circle cx="487.2" cy="423.4" r="0.9" fill="#888"/>
<circle cx="549.6" cy="423.4" r="2.6" fill="#c8c8bc" stroke="#888" stroke-width="0.5"/>
<circle cx="549.6" cy="423.4" r="0.9" fill="#888"/>
<circle cx="518.9" cy="393.8" r="16.8" fill="#fff" stroke="#6e6e6e" stroke-width="0.9"/>
<rect x="492.5" y="388.4" width="52.8" height="10.8" fill="#fff" stroke="#6e6e6e" stroke-width="0.9"/>
<rect x="498.1" y="386.1" width="41.6" height="15.4" fill="#fff" stroke="#6e6e6e" stroke-width="0.9"/>
<rect x="503.7" y="383.5" width="30.4" height="20.6" fill="#fff" stroke="#6e6e6e" stroke-width="0.9"/>
<rect x="508.4" y="381.0" width="21.0" height="25.6" fill="#fff" stroke="#6e6e6e" stroke-width="0.9"/>
<rect x="513.0" y="378.4" width="11.8" height="30.8" fill="#fff" stroke="#6e6e6e" stroke-width="0.9"/>
<circle cx="518.9" cy="393.8" r="16.1" fill="#fff"/>
<rect x="493.0" y="388.9" width="51.8" height="9.8" fill="#fff"/>
<rect x="498.6" y="386.6" width="40.6" height="14.4" fill="#fff"/>
<rect x="504.2" y="384.0" width="29.4" height="19.6" fill="#fff"/>
<rect x="508.9" y="381.5" width="20.0" height="24.6" fill="#fff"/>
<rect x="513.5" y="378.9" width="10.8" height="29.8" fill="#fff"/>
<line x1="519.2" y1="345.0" x2="519.2" y2="445.0" stroke="#555" stroke-width="0.6" stroke-dasharray="5,1.5,1,1.5"/><line x1="474.0" y1="394.6" x2="566.0" y2="394.6" stroke="#555" stroke-width="0.6" stroke-dasharray="5,1.5,1,1.5"/>
<line x1="473.0" y1="389.8" x2="494.0" y2="389.8" stroke="#6a6a6a" stroke-width="0.5"/>
<line x1="473.0" y1="396.8" x2="494.0" y2="396.8" stroke="#6a6a6a" stroke-width="0.5"/>
<line x1="476.5" y1="389.8" x2="476.5" y2="396.8" stroke="#444" stroke-width="0.6"/>
<polygon points="476.5,389.8 477.5,393.3 475.5,393.3" fill="#333"/>
<polygon points="476.5,396.8 475.5,393.3 477.5,393.3" fill="#333"/>
<text x="0" y="0" font-size="8.2" text-anchor="middle" fill="#333" transform="translate(474.5 393.3) rotate(-90) scale(0.8 1)">22</text>
<line x1="505.0" y1="377.0" x2="562.4" y2="442.3" stroke="#333" stroke-width="0.6"/>
<polygon points="505.0,377.0 508.1,378.9 506.7,380.2" fill="#333"/>
<polygon points="534.0,408.0 530.9,406.1 532.3,404.8" fill="#333"/>
<line x1="562.4" y1="442.8" x2="578.0" y2="442.8" stroke="#777" stroke-width="0.5"/>
<text x="0" y="0" font-size="3.6" text-anchor="start" fill="#777" transform="translate(563.0 438.6) rotate(0) scale(0.85 1)">Reducer</text>
<rect x="514.6" y="419.5" width="9" height="6.6" rx="0.8" fill="#f4f4f4" stroke="#444" stroke-width="0.7"/><text x="0" y="0" font-size="5.6" text-anchor="middle" fill="#2a2a2a" transform="translate(519.1 424.9) rotate(0) scale(0.85 1)">P1</text>
<rect x="502.8" y="427.5" width="6" height="4" fill="none" stroke="#666" stroke-width="0.6"/>
<line x1="505.8" y1="426.5" x2="505.8" y2="432.5" stroke="#666" stroke-width="0.5"/>
<rect x="529.0" y="427.5" width="6" height="4" fill="none" stroke="#666" stroke-width="0.6"/>
<line x1="532.0" y1="426.5" x2="532.0" y2="432.5" stroke="#666" stroke-width="0.5"/>
<line x1="505.8" y1="430.0" x2="505.8" y2="438.0" stroke="#6a6a6a" stroke-width="0.5"/>
<line x1="532.0" y1="430.0" x2="532.0" y2="438.0" stroke="#6a6a6a" stroke-width="0.5"/>
<line x1="505.8" y1="436.4" x2="532.0" y2="436.4" stroke="#444" stroke-width="0.6"/>
<polygon points="505.8,436.4 509.3,435.4 509.3,437.4" fill="#333"/>
<polygon points="532.0,436.4 528.5,437.4 528.5,435.4" fill="#333"/>
<text x="0" y="0" font-size="8.2" text-anchor="middle" fill="#333" transform="translate(518.9 435.2) rotate(0) scale(0.8 1)">50</text>
<line x1="493.6" y1="403.0" x2="493.6" y2="456.0" stroke="#6a6a6a" stroke-width="0.5"/>
<line x1="544.8" y1="403.0" x2="544.8" y2="456.0" stroke="#6a6a6a" stroke-width="0.5"/>
<line x1="493.6" y1="454.0" x2="544.8" y2="454.0" stroke="#444" stroke-width="0.6"/>
<polygon points="493.6,454.0 497.1,453.0 497.1,455.0" fill="#333"/>
<polygon points="544.8,454.0 541.3,455.0 541.3,453.0" fill="#333"/>
<text x="0" y="0" font-size="8.2" text-anchor="middle" fill="#333" transform="translate(519.2 453.2) rotate(0) scale(0.8 1)">102</text>
<rect x="603" y="359.4" width="23.4" height="71.4" rx="2.5" fill="#fbfbfb" stroke="#585858" stroke-width="1.35"/><rect x="604.6" y="361.0" width="20.2" height="68.2" rx="1.0" fill="#e8e9eb"/>
<rect x="606" y="350.8" width="17.0" height="9.1" rx="1" fill="#ededee" stroke="#3a3a3a" stroke-width="1"/>
<line x1="606.0" y1="352.8" x2="623.0" y2="352.8" stroke="#3a3a3a" stroke-width="0.7"/>
<circle cx="614.7" cy="356.1" r="1.7" fill="#f0ead8" stroke="#666" stroke-width="0.5"/>
<rect x="613.7" y="360.9" width="2" height="68.4" fill="#f7f7f7"/>
<line x1="613.6" y1="359.4" x2="613.6" y2="430.8" stroke="#666" stroke-width="0.55"/>
<line x1="615.8" y1="359.4" x2="615.8" y2="430.8" stroke="#666" stroke-width="0.55"/>
<line x1="594.0" y1="394.6" x2="632.0" y2="394.6" stroke="#555" stroke-width="0.6" stroke-dasharray="5,1.5,1,1.5"/>
<line x1="626.4" y1="359.4" x2="637.0" y2="359.4" stroke="#6a6a6a" stroke-width="0.5"/>
<line x1="626.4" y1="430.8" x2="637.0" y2="430.8" stroke="#6a6a6a" stroke-width="0.5"/>
<line x1="633.8" y1="359.4" x2="633.8" y2="430.8" stroke="#444" stroke-width="0.6"/>
<polygon points="633.8,359.4 634.8,362.9 632.8,362.9" fill="#333"/>
<polygon points="633.8,430.8 632.8,427.3 634.8,427.3" fill="#333"/>
<text x="0" y="0" font-size="8.2" text-anchor="middle" fill="#333" transform="translate(636.2 395.1) rotate(90) scale(0.8 1)">146max</text>
<line x1="603.0" y1="443.0" x2="626.4" y2="443.0" stroke="#444" stroke-width="0.6"/>
<polygon points="603.0,443.0 606.5,442.0 606.5,444.0" fill="#333"/>
<polygon points="626.4,443.0 622.9,444.0 622.9,442.0" fill="#333"/>
<line x1="603.0" y1="431.0" x2="603.0" y2="444.5" stroke="#6a6a6a" stroke-width="0.5"/>
<line x1="626.4" y1="431.0" x2="626.4" y2="444.5" stroke="#6a6a6a" stroke-width="0.5"/>
<text x="0" y="0" font-size="8.2" text-anchor="middle" fill="#333" transform="translate(614.7 442.0) rotate(0) scale(0.8 1)">47max</text>
<line x1="466.0" y1="458.8" x2="497.0" y2="458.8" stroke="#6a6a6a" stroke-width="0.5"/>
<line x1="466.0" y1="552.6" x2="476.0" y2="552.6" stroke="#6a6a6a" stroke-width="0.5"/>
<line x1="470.6" y1="458.8" x2="470.6" y2="552.6" stroke="#444" stroke-width="0.6"/>
<polygon points="470.6,458.8 471.6,462.3 469.6,462.3" fill="#333"/>
<polygon points="470.6,552.6 469.6,549.1 471.6,549.1" fill="#333"/>
<text x="0" y="0" font-size="8.2" text-anchor="middle" fill="#333" transform="translate(469.0 505.7) rotate(-90) scale(0.8 1)">171max</text>
<rect x="476" y="467.2" width="81.0" height="85.4" rx="4" fill="#fbfbfb" stroke="#585858" stroke-width="1.35"/><rect x="477.6" y="468.8" width="77.8" height="82.2" rx="2.5" fill="#e8e9eb"/>
<path d="M496.8,467.4 V459.8 H504.7 L506.1,460.8 H523.3 L524.7,459.8 H532.6 V467.4" fill="#ededee" stroke="#3a3a3a" stroke-width="1"/>
<line x1="496.8" y1="465.4" x2="532.6" y2="465.4" stroke="#3a3a3a" stroke-width="0.8"/>
<circle cx="528" cy="463.1" r="1.8" fill="#e8e0c8" stroke="#555" stroke-width="0.5"/>
<rect x="497" y="458.6" width="13.2" height="8.8" fill="#dcdcdc"/>
<text x="503.4" y="464.6" font-size="4.6" text-anchor="middle" fill="#aaa">cald</text>
<rect x="503.8" y="474.2" width="23.4" height="6.4" rx="1" fill="#f8f8f8" stroke="#555" stroke-width="0.7"/>
<rect x="497.2" y="475.8" width="4.4" height="4.4" fill="#ddd" stroke="#555" stroke-width="0.6"/>
<rect x="529.8" y="475.8" width="4.4" height="4.4" fill="#ddd" stroke="#555" stroke-width="0.6"/>
<circle cx="482.4" cy="474.2" r="2.6" fill="#d3cfbb"/>
<line x1="479.0" y1="474.2" x2="485.8" y2="474.2" stroke="#666" stroke-width="0.9"/>
<line x1="482.4" y1="470.8" x2="482.4" y2="477.6" stroke="#666" stroke-width="0.9"/>
<circle cx="549.6" cy="474.2" r="2.6" fill="#d3cfbb"/>
<line x1="546.2" y1="474.2" x2="553.0" y2="474.2" stroke="#666" stroke-width="0.9"/>
<line x1="549.6" y1="470.8" x2="549.6" y2="477.6" stroke="#666" stroke-width="0.9"/>
<circle cx="482.4" cy="546.2" r="2.6" fill="#d3cfbb"/>
<line x1="479.0" y1="546.2" x2="485.8" y2="546.2" stroke="#666" stroke-width="0.9"/>
<line x1="482.4" y1="542.8" x2="482.4" y2="549.6" stroke="#666" stroke-width="0.9"/>
<circle cx="549.6" cy="546.2" r="2.6" fill="#d3cfbb"/>
<line x1="546.2" y1="546.2" x2="553.0" y2="546.2" stroke="#666" stroke-width="0.9"/>
<line x1="549.6" y1="542.8" x2="549.6" y2="549.6" stroke="#666" stroke-width="0.9"/>
<circle cx="515.8" cy="509.6" r="18" fill="#fff" stroke="#6e6e6e" stroke-width="0.9"/>
<rect x="487.6" y="500.6" width="56.4" height="18.0" fill="#fff" stroke="#6e6e6e" stroke-width="0.9"/>
<rect x="498.5" y="497.9" width="34.6" height="23.4" fill="#fff" stroke="#6e6e6e" stroke-width="0.9"/>
<circle cx="515.8" cy="509.6" r="17.3" fill="#fff"/>
<rect x="488.1" y="501.1" width="55.4" height="17.0" fill="#fff"/>
<rect x="499.0" y="498.4" width="33.6" height="22.4" fill="#fff"/>
<line x1="516.0" y1="454.0" x2="516.0" y2="570.0" stroke="#555" stroke-width="0.6" stroke-dasharray="5,1.5,1,1.5"/><line x1="470.0" y1="511.0" x2="562.0" y2="511.0" stroke="#555" stroke-width="0.6" stroke-dasharray="5,1.5,1,1.5"/>
<line x1="525.6" y1="492.8" x2="506.4" y2="529.2" stroke="#333" stroke-width="0.6"/>
<polygon points="525.6,492.8 524.8,496.4 523.1,495.4" fill="#333"/>
<polygon points="506.4,529.2 507.2,525.6 508.9,526.6" fill="#333"/>
<text x="532.0" y="489.8" font-size="7.4" text-anchor="middle" fill="#2a2a2a">Φ62</text>
<line x1="524.0" y1="491.5" x2="541.0" y2="491.5" stroke="#444" stroke-width="0.5"/>
<line x1="540.0" y1="501.2" x2="552.0" y2="501.2" stroke="#6a6a6a" stroke-width="0.5"/>
<line x1="540.0" y1="520.8" x2="552.0" y2="520.8" stroke="#6a6a6a" stroke-width="0.5"/>
<line x1="548.6" y1="501.2" x2="548.6" y2="520.8" stroke="#444" stroke-width="0.6"/>
<polygon points="548.6,501.2 549.6,504.7 547.6,504.7" fill="#333"/>
<polygon points="548.6,520.8 547.6,517.3 549.6,517.3" fill="#333"/>
<text x="0" y="0" font-size="6" text-anchor="middle" fill="#333" transform="translate(547.2 511.0) rotate(-90) scale(0.8 1)">17.5</text>
<line x1="487.2" y1="521.0" x2="487.2" y2="538.0" stroke="#6a6a6a" stroke-width="0.5"/>
<line x1="544.2" y1="521.0" x2="544.2" y2="538.0" stroke="#6a6a6a" stroke-width="0.5"/>
<line x1="487.2" y1="536.6" x2="544.2" y2="536.6" stroke="#444" stroke-width="0.6"/>
<polygon points="487.2,536.6 490.7,535.6 490.7,537.6" fill="#333"/>
<polygon points="544.2,536.6 540.7,537.6 540.7,535.6" fill="#333"/>
<text x="0" y="0" font-size="6.4" text-anchor="middle" fill="#333" transform="translate(515.7 535.4) rotate(0) scale(0.8 1)">102</text>
<circle cx="540" cy="540.8" r="1.3" fill="none" stroke="#444" stroke-width="0.6"/>
<rect x="476.8" y="542.4" width="9.6" height="8.8" fill="#fafafa"/>
<text x="481.5" y="548.5" font-size="3.2" text-anchor="middle" fill="#777">TR1</text>
<rect x="511.0" y="541.3" width="10" height="6.6" rx="0.8" fill="#f4f4f4" stroke="#444" stroke-width="0.7"/><text x="0" y="0" font-size="5.6" text-anchor="middle" fill="#2a2a2a" transform="translate(516.0 546.7) rotate(0) scale(0.85 1)">P1</text>
<rect x="498.6" y="549.0" width="6" height="4" fill="none" stroke="#666" stroke-width="0.6"/>
<line x1="501.6" y1="548.0" x2="501.6" y2="554.0" stroke="#666" stroke-width="0.5"/>
<rect x="525.8" y="549.0" width="6" height="4" fill="none" stroke="#666" stroke-width="0.6"/>
<line x1="528.8" y1="548.0" x2="528.8" y2="554.0" stroke="#666" stroke-width="0.5"/>
<line x1="501.6" y1="553.0" x2="501.6" y2="560.0" stroke="#6a6a6a" stroke-width="0.5"/>
<line x1="528.8" y1="553.0" x2="528.8" y2="560.0" stroke="#6a6a6a" stroke-width="0.5"/>
<line x1="501.6" y1="559.5" x2="528.8" y2="559.5" stroke="#444" stroke-width="0.6"/>
<polygon points="501.6,559.5 505.1,558.5 505.1,560.5" fill="#333"/>
<polygon points="528.8,559.5 525.3,560.5 525.3,558.5" fill="#333"/>
<text x="0" y="0" font-size="8.2" text-anchor="middle" fill="#333" transform="translate(515.2 558.6) rotate(0) scale(0.8 1)">50</text>
<line x1="476.0" y1="565.4" x2="557.0" y2="565.4" stroke="#444" stroke-width="0.6"/>
<polygon points="476.0,565.4 479.5,564.4 479.5,566.4" fill="#333"/>
<polygon points="557.0,565.4 553.5,566.4 553.5,564.4" fill="#333"/>
<line x1="476.0" y1="553.0" x2="476.0" y2="566.9" stroke="#6a6a6a" stroke-width="0.5"/>
<line x1="557.0" y1="553.0" x2="557.0" y2="566.9" stroke="#6a6a6a" stroke-width="0.5"/>
<text x="0" y="0" font-size="8.2" text-anchor="middle" fill="#333" transform="translate(516.5 566.6) rotate(0) scale(0.8 1)">146max</text>
<rect x="606.2" y="467.2" width="25.6" height="85.4" rx="2.5" fill="#fbfbfb" stroke="#585858" stroke-width="1.35"/><rect x="607.8" y="468.8" width="22.4" height="82.2" rx="1.0" fill="#e8e9eb"/>
<rect x="611" y="458.8" width="17.6" height="8.9" rx="1" fill="#ededee" stroke="#3a3a3a" stroke-width="1"/>
<line x1="611.0" y1="460.8" x2="628.6" y2="460.8" stroke="#3a3a3a" stroke-width="0.7"/>
<circle cx="619.0" cy="464.0" r="1.7" fill="#f0ead8" stroke="#666" stroke-width="0.5"/>
<rect x="618.0" y="468.7" width="2" height="82.4" fill="#f7f7f7"/>
<line x1="617.9" y1="467.2" x2="617.9" y2="552.6" stroke="#666" stroke-width="0.55"/>
<line x1="620.1" y1="467.2" x2="620.1" y2="552.6" stroke="#666" stroke-width="0.55"/>
<line x1="598.0" y1="511.0" x2="640.0" y2="511.0" stroke="#555" stroke-width="0.6" stroke-dasharray="5,1.5,1,1.5"/>
<line x1="606.2" y1="559.2" x2="631.8" y2="559.2" stroke="#444" stroke-width="0.6"/>
<polygon points="606.2,559.2 609.7,558.2 609.7,560.2" fill="#333"/>
<polygon points="631.8,559.2 628.3,560.2 628.3,558.2" fill="#333"/>
<line x1="606.2" y1="553.0" x2="606.2" y2="560.7" stroke="#6a6a6a" stroke-width="0.5"/>
<line x1="631.8" y1="553.0" x2="631.8" y2="560.7" stroke="#6a6a6a" stroke-width="0.5"/>
<text x="0" y="0" font-size="8.2" text-anchor="middle" fill="#333" transform="translate(619.0 559.2) rotate(0) scale(0.8 1)">53max</text>
<text x="567.7" y="578.3" font-size="7.3" text-anchor="middle" fill="#505050" letter-spacing="0.16">(2500/sa~3000/5a1 level 0.5)</text>
<line x1="433.0" y1="602.2" x2="487.0" y2="602.2" stroke="#6a6a6a" stroke-width="0.5"/>
<line x1="433.0" y1="679.0" x2="450.0" y2="679.0" stroke="#6a6a6a" stroke-width="0.5"/>
<line x1="437.6" y1="602.2" x2="437.6" y2="679.0" stroke="#444" stroke-width="0.6"/>
<polygon points="437.6,602.2 438.6,605.7 436.6,605.7" fill="#333"/>
<polygon points="437.6,679.0 436.6,675.5 438.6,675.5" fill="#333"/>
<text x="0" y="0" font-size="8.2" text-anchor="middle" fill="#333" transform="translate(436.0 640.6) rotate(-90) scale(0.8 1)">138max</text>
<rect x="450.4" y="611.8" width="106.6" height="67.2" rx="1.8" fill="#fbfbfb" stroke="#585858" stroke-width="1.35"/><rect x="452.0" y="613.4" width="103.4" height="64.0" rx="0.5" fill="#e8e9eb"/>
<path d="M486.6,612 V603.2 H494.1 L495.5,604.2 H511.9 L513.3,603.2 H520.8 V612" fill="#ededee" stroke="#3a3a3a" stroke-width="1"/>
<line x1="486.6" y1="610.0" x2="520.8" y2="610.0" stroke="#3a3a3a" stroke-width="0.8"/>
<circle cx="492" cy="607.1" r="1.8" fill="#e8e0c8" stroke="#555" stroke-width="0.5"/>
<circle cx="516" cy="607.1" r="1.8" fill="#e8e0c8" stroke="#555" stroke-width="0.5"/>
<rect x="489.8" y="614" width="27.2" height="7.5" rx="1" fill="#f8f8f8" stroke="#555" stroke-width="0.7"/>
<rect x="480.2" y="613.8" width="4.4" height="4.4" fill="#ddd" stroke="#555" stroke-width="0.6"/>
<rect x="521.8" y="613.8" width="4.4" height="4.4" fill="#ddd" stroke="#555" stroke-width="0.6"/>
<circle cx="454.6" cy="615.6" r="2.6" fill="#c8c8bc" stroke="#888" stroke-width="0.5"/>
<circle cx="454.6" cy="615.6" r="0.9" fill="#888"/>
<circle cx="552.2" cy="615.6" r="2.6" fill="#c8c8bc" stroke="#888" stroke-width="0.5"/>
<circle cx="552.2" cy="615.6" r="0.9" fill="#888"/>
<circle cx="454.6" cy="674.8" r="2.6" fill="#c8c8bc" stroke="#888" stroke-width="0.5"/>
<circle cx="454.6" cy="674.8" r="0.9" fill="#888"/>
<circle cx="552.2" cy="674.8" r="2.6" fill="#c8c8bc" stroke="#888" stroke-width="0.5"/>
<circle cx="552.2" cy="674.8" r="0.9" fill="#888"/>
<circle cx="503.1" cy="645.2" r="18.4" fill="#fff" stroke="#6e6e6e" stroke-width="0.9"/>
<rect x="468.2" y="635.2" width="69.8" height="20.1" fill="#fff" stroke="#6e6e6e" stroke-width="0.9"/>
<circle cx="503.1" cy="645.2" r="17.7" fill="#fff"/>
<rect x="468.7" y="635.7" width="68.8" height="19.1" fill="#fff"/>
<line x1="503.2" y1="596.0" x2="503.2" y2="705.0" stroke="#555" stroke-width="0.6" stroke-dasharray="5,1.5,1,1.5"/><line x1="444.0" y1="645.0" x2="562.0" y2="645.0" stroke="#555" stroke-width="0.6" stroke-dasharray="5,1.5,1,1.5"/>
<line x1="440.0" y1="634.6" x2="468.0" y2="634.6" stroke="#6a6a6a" stroke-width="0.5"/>
<line x1="440.0" y1="655.6" x2="468.0" y2="655.6" stroke="#6a6a6a" stroke-width="0.5"/>
<line x1="444.0" y1="634.6" x2="444.0" y2="655.6" stroke="#444" stroke-width="0.6"/>
<polygon points="444.0,634.6 445.0,638.1 443.0,638.1" fill="#333"/>
<polygon points="444.0,655.6 443.0,652.1 445.0,652.1" fill="#333"/>
<text x="0" y="0" font-size="8.2" text-anchor="middle" fill="#333" transform="translate(442.5 645.1) rotate(-90) scale(0.8 1)">36</text>
<line x1="516.0" y1="631.0" x2="488.8" y2="658.8" stroke="#333" stroke-width="0.6"/>
<polygon points="516.0,631.0 514.2,634.2 512.8,632.8" fill="#333"/>
<polygon points="488.8,658.8 490.6,655.6 492.0,657.0" fill="#333"/>
<text x="518.0" y="622.0" font-size="2.8" text-anchor="start" fill="#777">Bottom</text>
<text x="518.0" y="625.5" font-size="2.8" text-anchor="start" fill="#777">75</text>
<rect x="498.8" y="667.3" width="10" height="6.6" rx="0.8" fill="#f4f4f4" stroke="#444" stroke-width="0.7"/><text x="0" y="0" font-size="5.6" text-anchor="middle" fill="#2a2a2a" transform="translate(503.8 672.7) rotate(0) scale(0.85 1)">P1</text>
<rect x="485.8" y="675.5" width="6" height="4" fill="none" stroke="#666" stroke-width="0.6"/>
<line x1="488.8" y1="674.5" x2="488.8" y2="680.5" stroke="#666" stroke-width="0.5"/>
<rect x="514.6" y="675.5" width="6" height="4" fill="none" stroke="#666" stroke-width="0.6"/>
<line x1="517.6" y1="674.5" x2="517.6" y2="680.5" stroke="#666" stroke-width="0.5"/>
<line x1="488.8" y1="679.0" x2="488.8" y2="688.0" stroke="#6a6a6a" stroke-width="0.5"/>
<line x1="517.6" y1="679.0" x2="517.6" y2="688.0" stroke="#6a6a6a" stroke-width="0.5"/>
<line x1="468.0" y1="655.6" x2="468.0" y2="695.0" stroke="#6a6a6a" stroke-width="0.5"/>
<line x1="538.4" y1="655.6" x2="538.4" y2="695.0" stroke="#6a6a6a" stroke-width="0.5"/>
<line x1="488.8" y1="686.0" x2="517.6" y2="686.0" stroke="#444" stroke-width="0.6"/>
<polygon points="488.8,686.0 492.3,685.0 492.3,687.0" fill="#333"/>
<polygon points="517.6,686.0 514.1,687.0 514.1,685.0" fill="#333"/>
<text x="0" y="0" font-size="8.2" text-anchor="middle" fill="#333" transform="translate(503.2 685.4) rotate(0) scale(0.8 1)">50</text>
<line x1="468.0" y1="693.0" x2="538.4" y2="693.0" stroke="#444" stroke-width="0.6"/>
<polygon points="468.0,693.0 471.5,692.0 471.5,694.0" fill="#333"/>
<polygon points="538.4,693.0 534.9,694.0 534.9,692.0" fill="#333"/>
<text x="0" y="0" font-size="8.2" text-anchor="middle" fill="#333" transform="translate(503.2 692.2) rotate(0) scale(0.8 1)">126</text>
<line x1="450.4" y1="702.0" x2="557.0" y2="702.0" stroke="#444" stroke-width="0.6"/>
<polygon points="450.4,702.0 453.9,701.0 453.9,703.0" fill="#333"/>
<polygon points="557.0,702.0 553.5,703.0 553.5,701.0" fill="#333"/>
<line x1="450.4" y1="680.0" x2="450.4" y2="703.5" stroke="#6a6a6a" stroke-width="0.5"/>
<line x1="557.0" y1="680.0" x2="557.0" y2="703.5" stroke="#6a6a6a" stroke-width="0.5"/>
<text x="0" y="0" font-size="8.2" text-anchor="middle" fill="#333" transform="translate(503.7 701.6) rotate(0) scale(0.8 1)">191max</text>
<rect x="606.6" y="609.8" width="25.2" height="69.2" rx="2.5" fill="#fbfbfb" stroke="#585858" stroke-width="1.35"/><rect x="608.2" y="611.4" width="22.0" height="66.0" rx="1.0" fill="#e8e9eb"/>
<rect x="611.4" y="602.2" width="17.2" height="8.1" rx="1" fill="#ededee" stroke="#3a3a3a" stroke-width="1"/>
<line x1="611.4" y1="604.2" x2="628.6" y2="604.2" stroke="#3a3a3a" stroke-width="0.7"/>
<circle cx="619.2" cy="607.0" r="1.7" fill="#f0ead8" stroke="#666" stroke-width="0.5"/>
<rect x="618.2" y="611.3" width="2" height="66.2" fill="#f7f7f7"/>
<line x1="618.1" y1="609.8" x2="618.1" y2="679.0" stroke="#666" stroke-width="0.55"/>
<line x1="620.3" y1="609.8" x2="620.3" y2="679.0" stroke="#666" stroke-width="0.55"/>
<line x1="598.0" y1="645.0" x2="640.0" y2="645.0" stroke="#555" stroke-width="0.6" stroke-dasharray="5,1.5,1,1.5"/>
<line x1="606.6" y1="689.8" x2="631.8" y2="689.8" stroke="#444" stroke-width="0.6"/>
<polygon points="606.6,689.8 610.1,688.8 610.1,690.8" fill="#333"/>
<polygon points="631.8,689.8 628.3,690.8 628.3,688.8" fill="#333"/>
<line x1="606.6" y1="680.0" x2="606.6" y2="691.3" stroke="#6a6a6a" stroke-width="0.5"/>
<line x1="631.8" y1="680.0" x2="631.8" y2="691.3" stroke="#6a6a6a" stroke-width="0.5"/>
<text x="0" y="0" font-size="8.2" text-anchor="middle" fill="#333" transform="translate(619.2 688.6) rotate(0) scale(0.8 1)">47max</text>
<line x1="438.0" y1="735.4" x2="485.0" y2="735.4" stroke="#6a6a6a" stroke-width="0.5"/>
<line x1="438.0" y1="832.0" x2="446.0" y2="832.0" stroke="#6a6a6a" stroke-width="0.5"/>
<line x1="443.0" y1="735.4" x2="443.0" y2="832.0" stroke="#444" stroke-width="0.6"/>
<polygon points="443.0,735.4 444.0,738.9 442.0,738.9" fill="#333"/>
<polygon points="443.0,832.0 442.0,828.5 444.0,828.5" fill="#333"/>
<text x="0" y="0" font-size="8.2" text-anchor="middle" fill="#333" transform="translate(441.0 783.7) rotate(-90) scale(0.8 1)">173max</text>
<rect x="446.2" y="744" width="109.8" height="88.0" rx="2" fill="#fbfbfb" stroke="#585858" stroke-width="1.35"/><rect x="447.8" y="745.6" width="106.6" height="84.8" rx="0.5" fill="#e8e9eb"/>
<path d="M484,744.2 V736.4 H491.6 L493.0,737.4 H509.6 L511.0,736.4 H518.6 V744.2" fill="#ededee" stroke="#3a3a3a" stroke-width="1"/>
<line x1="484.0" y1="742.2" x2="518.6" y2="742.2" stroke="#3a3a3a" stroke-width="0.8"/>
<circle cx="490.4" cy="739.8" r="1.8" fill="#e8e0c8" stroke="#555" stroke-width="0.5"/>
<circle cx="512.8" cy="739.8" r="1.8" fill="#e8e0c8" stroke="#555" stroke-width="0.5"/>
<rect x="489.8" y="748.8" width="23.6" height="5.8" rx="1" fill="#f8f8f8" stroke="#555" stroke-width="0.7"/>
<rect x="481.8" y="749.8" width="4.4" height="4.4" fill="#ddd" stroke="#555" stroke-width="0.6"/>
<rect x="515.4" y="749.8" width="4.4" height="4.4" fill="#ddd" stroke="#555" stroke-width="0.6"/>
<circle cx="451.4" cy="749.4" r="2.6" fill="#d3cfbb"/>
<line x1="448.0" y1="749.4" x2="454.8" y2="749.4" stroke="#666" stroke-width="0.9"/>
<line x1="451.4" y1="746.0" x2="451.4" y2="752.8" stroke="#666" stroke-width="0.9"/>
<circle cx="551.2" cy="749.4" r="2.6" fill="#d3cfbb"/>
<line x1="547.8" y1="749.4" x2="554.6" y2="749.4" stroke="#666" stroke-width="0.9"/>
<line x1="551.2" y1="746.0" x2="551.2" y2="752.8" stroke="#666" stroke-width="0.9"/>
<circle cx="451.4" cy="825.6" r="2.6" fill="#d3cfbb"/>
<line x1="448.0" y1="825.6" x2="454.8" y2="825.6" stroke="#666" stroke-width="0.9"/>
<line x1="451.4" y1="822.2" x2="451.4" y2="829.0" stroke="#666" stroke-width="0.9"/>
<circle cx="551.2" cy="825.6" r="2.6" fill="#d3cfbb"/>
<line x1="547.8" y1="825.6" x2="554.6" y2="825.6" stroke="#666" stroke-width="0.9"/>
<line x1="551.2" y1="822.2" x2="551.2" y2="829.0" stroke="#666" stroke-width="0.9"/>
<rect x="465.2" y="771.4" width="72.5" height="33.5" fill="#fff" stroke="#6e6e6e" stroke-width="0.9"/>
<path d="M490.6,771.8 Q500.8,762.3 510,771.8" fill="#fff" stroke="#6e6e6e" stroke-width="0.8"/>
<path d="M491.5,804.5 Q500.8,810.8 509,804.5" fill="#fff" stroke="#6e6e6e" stroke-width="0.8"/>
<line x1="500.6" y1="725.0" x2="500.6" y2="850.0" stroke="#555" stroke-width="0.6" stroke-dasharray="5,1.5,1,1.5"/><line x1="440.0" y1="788.0" x2="570.0" y2="788.0" stroke="#555" stroke-width="0.6" stroke-dasharray="5,1.5,1,1.5"/>
<line x1="513.4" y1="764.8" x2="488.8" y2="810.2" stroke="#333" stroke-width="0.6"/>
<polygon points="513.4,764.8 512.6,768.4 510.8,767.4" fill="#333"/>
<polygon points="488.8,810.2 489.6,806.6 491.4,807.6" fill="#333"/>
<text x="518.4" y="763.2" font-size="7.4" text-anchor="middle" fill="#2a2a2a">Φ70</text>
<line x1="511.0" y1="765.0" x2="527.0" y2="765.0" stroke="#444" stroke-width="0.5"/>
<line x1="537.8" y1="771.2" x2="551.0" y2="771.2" stroke="#6a6a6a" stroke-width="0.5"/>
<line x1="537.8" y1="805.8" x2="551.0" y2="805.8" stroke="#6a6a6a" stroke-width="0.5"/>
<line x1="547.4" y1="771.2" x2="547.4" y2="805.8" stroke="#444" stroke-width="0.6"/>
<polygon points="547.4,771.2 548.4,774.7 546.4,774.7" fill="#333"/>
<polygon points="547.4,805.8 546.4,802.3 548.4,802.3" fill="#333"/>
<text x="0" y="0" font-size="8.2" text-anchor="middle" fill="#333" transform="translate(545.8 788.5) rotate(-90) scale(0.8 1)">60</text>
<line x1="465.4" y1="806.0" x2="465.4" y2="818.0" stroke="#6a6a6a" stroke-width="0.5"/>
<line x1="537.8" y1="806.0" x2="537.8" y2="818.0" stroke="#6a6a6a" stroke-width="0.5"/>
<line x1="465.4" y1="815.4" x2="537.8" y2="815.4" stroke="#444" stroke-width="0.6"/>
<polygon points="465.4,815.4 468.9,814.4 468.9,816.4" fill="#333"/>
<polygon points="537.8,815.4 534.3,816.4 534.3,814.4" fill="#333"/>
<text x="0" y="0" font-size="8.2" text-anchor="middle" fill="#333" transform="translate(501.6 814.4) rotate(0) scale(0.8 1)">130</text>
<circle cx="541.6" cy="818.6" r="1.3" fill="none" stroke="#444" stroke-width="0.6"/>
<rect x="495.0" y="819.7" width="10" height="6.6" rx="0.8" fill="#f4f4f4" stroke="#444" stroke-width="0.7"/><text x="0" y="0" font-size="5.6" text-anchor="middle" fill="#2a2a2a" transform="translate(500.0 825.1) rotate(0) scale(0.85 1)">P1</text>
<rect x="483.6" y="828.5" width="6" height="4" fill="none" stroke="#666" stroke-width="0.6"/>
<line x1="486.6" y1="827.5" x2="486.6" y2="833.5" stroke="#666" stroke-width="0.5"/>
<rect x="512.4" y="828.5" width="6" height="4" fill="none" stroke="#666" stroke-width="0.6"/>
<line x1="515.4" y1="827.5" x2="515.4" y2="833.5" stroke="#666" stroke-width="0.5"/>
<line x1="486.6" y1="832.0" x2="486.6" y2="840.0" stroke="#6a6a6a" stroke-width="0.5"/>
<line x1="515.4" y1="832.0" x2="515.4" y2="840.0" stroke="#6a6a6a" stroke-width="0.5"/>
<line x1="486.6" y1="837.8" x2="515.4" y2="837.8" stroke="#444" stroke-width="0.6"/>
<polygon points="486.6,837.8 490.1,836.8 490.1,838.8" fill="#333"/>
<polygon points="515.4,837.8 511.9,838.8 511.9,836.8" fill="#333"/>
<text x="0" y="0" font-size="8.2" text-anchor="middle" fill="#333" transform="translate(501.0 837.2) rotate(0) scale(0.8 1)">50</text>
<line x1="446.2" y1="846.4" x2="556.0" y2="846.4" stroke="#444" stroke-width="0.6"/>
<polygon points="446.2,846.4 449.7,845.4 449.7,847.4" fill="#333"/>
<polygon points="556.0,846.4 552.5,847.4 552.5,845.4" fill="#333"/>
<line x1="446.2" y1="833.0" x2="446.2" y2="847.9" stroke="#6a6a6a" stroke-width="0.5"/>
<line x1="556.0" y1="833.0" x2="556.0" y2="847.9" stroke="#6a6a6a" stroke-width="0.5"/>
<text x="0" y="0" font-size="8.2" text-anchor="middle" fill="#333" transform="translate(501.1 846.0) rotate(0) scale(0.8 1)">197max</text>
<rect x="606.4" y="744.6" width="26.3" height="87.2" rx="0.5" fill="#fbfbfb" stroke="#585858" stroke-width="1.35"/><rect x="608.0" y="746.2" width="23.1" height="84.0" rx="0.5" fill="#e8e9eb"/>
<rect x="612.4" y="743.6" width="14.3" height="2.2" fill="#fff"/>
<line x1="619.5" y1="745.6" x2="619.5" y2="830.8" stroke="#777" stroke-width="0.6"/>
<line x1="601.0" y1="788.0" x2="638.0" y2="788.0" stroke="#555" stroke-width="0.6" stroke-dasharray="5,1.5,1,1.5"/>
<text x="612.6" y="737.5" font-size="4.6" text-anchor="start" fill="#666">Sngi</text>
<text x="612.6" y="742.8" font-size="4.6" text-anchor="start" fill="#666">e</text>
<line x1="611.4" y1="744.0" x2="611.4" y2="738.0" stroke="#555" stroke-width="0.6"/>
<line x1="606.6" y1="839.0" x2="631.8" y2="839.0" stroke="#444" stroke-width="0.6"/>
<polygon points="606.6,839.0 610.1,838.0 610.1,840.0" fill="#333"/>
<polygon points="631.8,839.0 628.3,840.0 628.3,838.0" fill="#333"/>
<line x1="606.6" y1="833.0" x2="606.6" y2="840.5" stroke="#6a6a6a" stroke-width="0.5"/>
<line x1="631.8" y1="833.0" x2="631.8" y2="840.5" stroke="#6a6a6a" stroke-width="0.5"/>
<text x="0" y="0" font-size="8.2" text-anchor="middle" fill="#333" transform="translate(619.2 838.2) rotate(0) scale(0.8 1)">47max</text>
<text x="568.0" y="857.6" font-size="7.3" text-anchor="middle" fill="#505050" letter-spacing="0.16">(2500/5a~4000/5a1 level 0.5)</text></svg>
<svg class="a" style="left:668px;top:41px" width="46" height="191" viewBox="0 0 46 191">
<path d="M0,0 H46 V174 Q46,190.5 23,190.5 H0 Z" fill="#20a9e3"/>
<path fill-rule="evenodd" fill="#fff" d="M8.9,81.9 L17.4,56.1 H25.6 L34,81.9 H27.1 L25.33,76.6 H17.67 L15.9,81.9 Z M18,71.8 H24.3 L21.2,61.2 Z"/>
<g transform="translate(13.2,96) scale(1.0,1.0)" fill="none" stroke="#dff1fb" stroke-width="2.3" stroke-linejoin="miter">
<path d="M0.3,1.3 H7.4 M1,4.6 H6.7 V15.3 H1 Z M1,11.4 H6.7"/>
<path stroke-width="1.4" d="M2.9,1.3 V7.6 Q2.9,8.6 1.6,8.8 M4.8,1.3 V7.6 Q4.8,8.6 6.2,8.8"/>
<path d="M8.6,2 H14.6 V8.2 H9.3 V14 Q9.3,15 10.3,15 H15.6 V12.5"/>
</g>
<g transform="translate(13.4,116.2) scale(1.0,1.0)" fill="none" stroke="#dff1fb" stroke-width="2.3">
<path d="M1.5,3.5 H14.5 V11 H1.5 Z M1.5,7.2 H14.5 M8,0 V13.2 Q8,15 10,15 H15.8 V12.6"/>
</g>
<g transform="translate(13.4,136.5) scale(1.0,1.0)" fill="none" stroke="#dff1fb" stroke-width="2.3">
<path d="M1.5,3.5 H14.5 V11 H1.5 Z M1.5,7.2 H14.5 M8,0 V13.2 Q8,15 10,15 H15.8 V12.6"/>
</g>
<rect x="13" y="155" width="7" height="1.3" fill="#dff1fb"/>
<rect x="22" y="155" width="7" height="1.3" fill="#dff1fb"/>
<text x="11.2" y="166.6" font-family="Liberation Sans" font-size="7.9" fill="#dff1fb" stroke="#dff1fb" stroke-width="0.45">Devic</text>
<text x="11.2" y="175.8" font-family="Liberation Sans" font-size="7.9" fill="#dff1fb" stroke="#dff1fb" stroke-width="0.45">e</text>
</svg>
</body></html>
